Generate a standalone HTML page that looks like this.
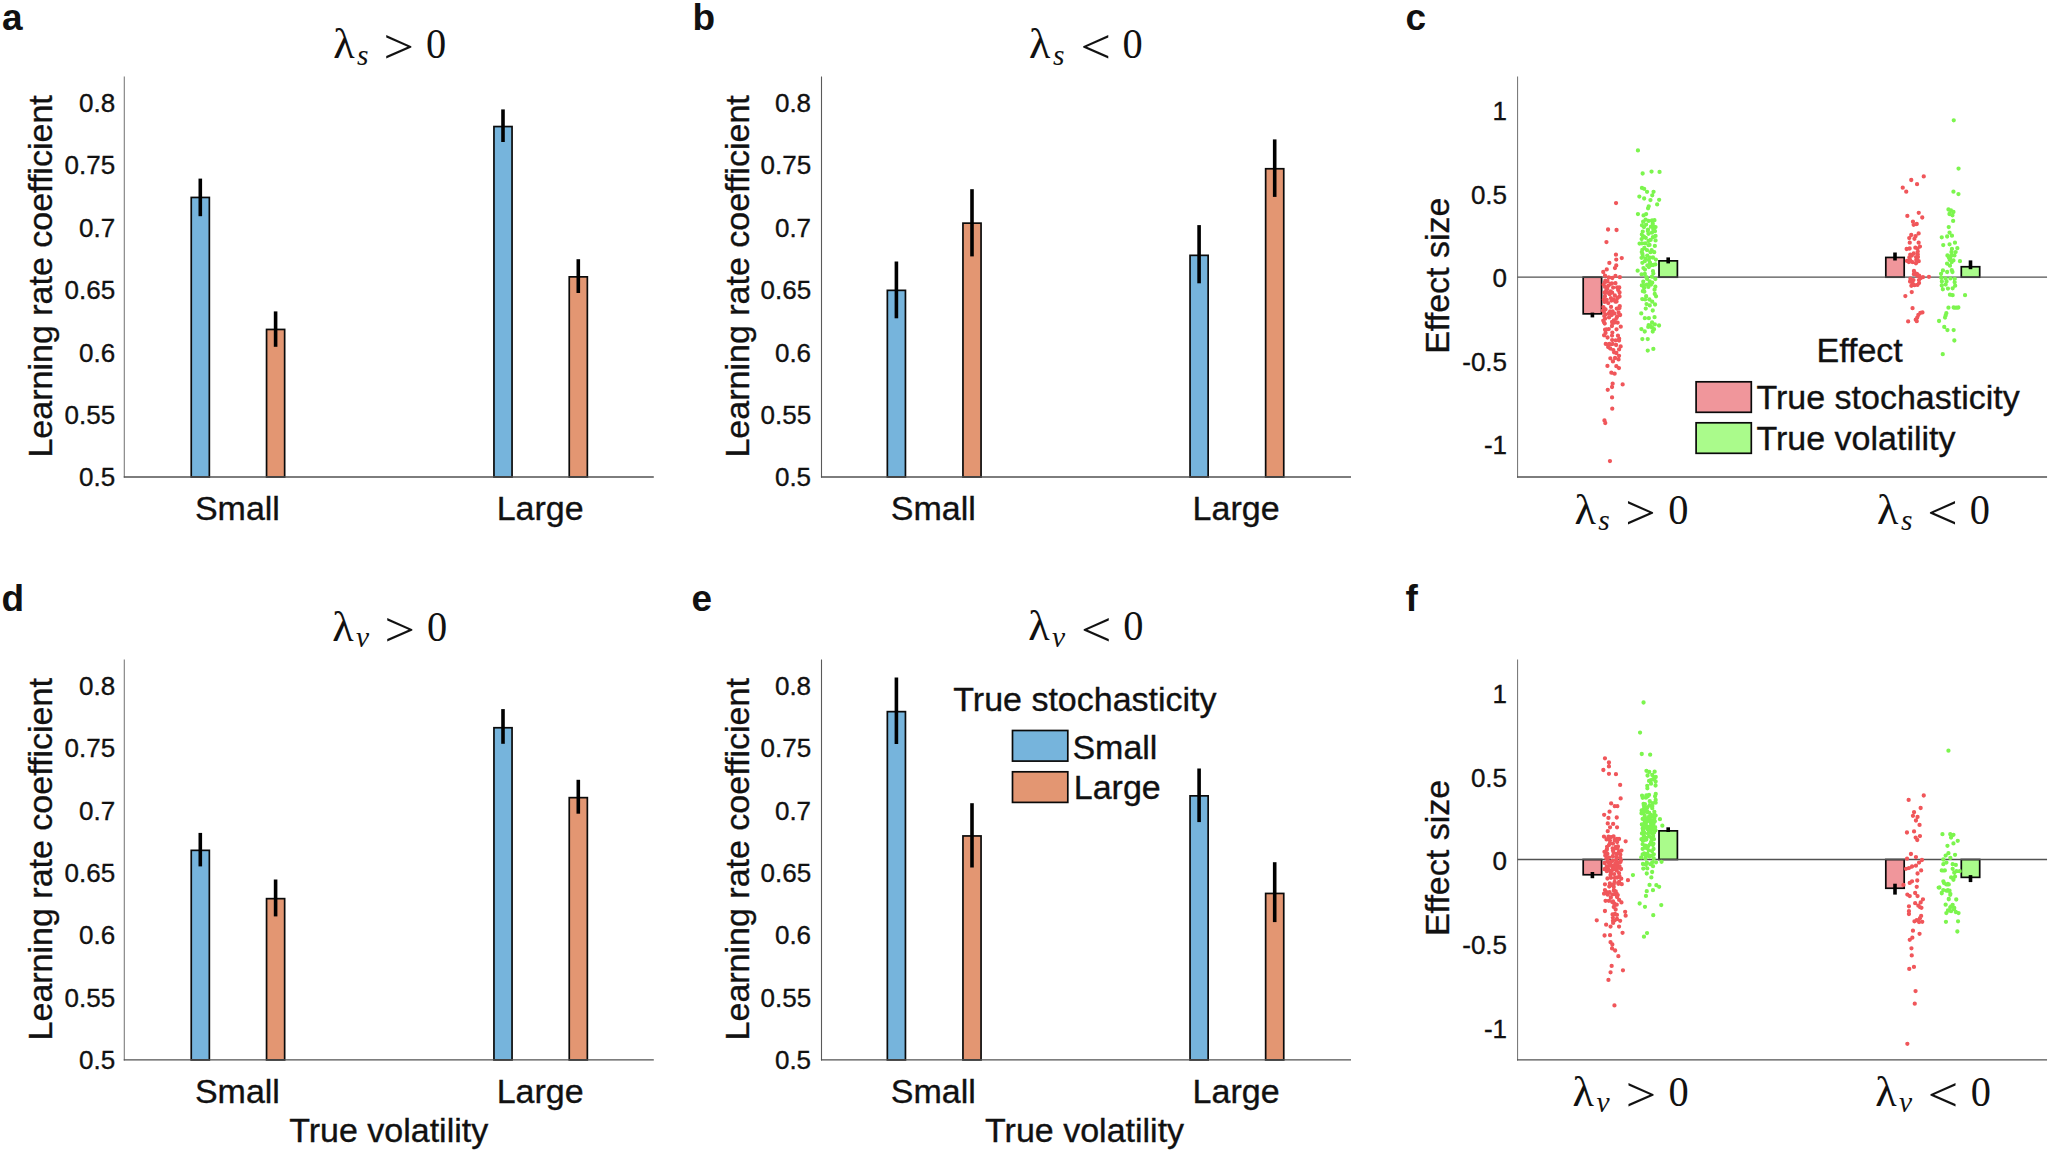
<!DOCTYPE html>
<html lang="en"><head><meta charset="utf-8"><title>Figure</title>
<style>
html,body{margin:0;padding:0;background:#fff;}
body{width:2050px;height:1154px;overflow:hidden;}
svg{display:block;}
text{fill:#111;}
.s{stroke:#111;stroke-width:0.35px;}
</style></head><body>
<svg width="2050" height="1154" viewBox="0 0 2050 1154">
<rect width="2050" height="1154" fill="#fff"/>
<rect x="191.25" y="197.45" width="18.10" height="279.55" fill="#76b4dc" stroke="#0a0a0a" stroke-width="1.7"/>
<rect x="266.55" y="329.45" width="18.10" height="147.55" fill="#e39672" stroke="#0a0a0a" stroke-width="1.7"/>
<rect x="493.95" y="126.55" width="18.10" height="350.45" fill="#76b4dc" stroke="#0a0a0a" stroke-width="1.7"/>
<rect x="569.25" y="276.85" width="18.10" height="200.15" fill="#e39672" stroke="#0a0a0a" stroke-width="1.7"/>
<line x1="124.30" y1="76.60" x2="124.30" y2="477.60" stroke="#7c7c7c" stroke-width="1.1"/>
<line x1="123.75" y1="477.00" x2="653.80" y2="477.00" stroke="#525252" stroke-width="1.3"/>
<line x1="200.30" y1="178.60" x2="200.30" y2="216.20" stroke="#000" stroke-width="3.6"/>
<line x1="275.60" y1="311.40" x2="275.60" y2="346.80" stroke="#000" stroke-width="3.6"/>
<line x1="503.00" y1="109.40" x2="503.00" y2="142.00" stroke="#000" stroke-width="3.6"/>
<line x1="578.30" y1="259.20" x2="578.30" y2="293.00" stroke="#000" stroke-width="3.6"/>
<text x="115.20" y="486.30" font-size="26.0" text-anchor="end" font-weight="normal" font-family="'Liberation Sans', Arimo, Helvetica, Arial, sans-serif"  class="s">0.5</text>
<text x="115.20" y="423.90" font-size="26.0" text-anchor="end" font-weight="normal" font-family="'Liberation Sans', Arimo, Helvetica, Arial, sans-serif"  class="s">0.55</text>
<text x="115.20" y="361.50" font-size="26.0" text-anchor="end" font-weight="normal" font-family="'Liberation Sans', Arimo, Helvetica, Arial, sans-serif"  class="s">0.6</text>
<text x="115.20" y="299.10" font-size="26.0" text-anchor="end" font-weight="normal" font-family="'Liberation Sans', Arimo, Helvetica, Arial, sans-serif"  class="s">0.65</text>
<text x="115.20" y="236.70" font-size="26.0" text-anchor="end" font-weight="normal" font-family="'Liberation Sans', Arimo, Helvetica, Arial, sans-serif"  class="s">0.7</text>
<text x="115.20" y="174.30" font-size="26.0" text-anchor="end" font-weight="normal" font-family="'Liberation Sans', Arimo, Helvetica, Arial, sans-serif"  class="s">0.75</text>
<text x="115.20" y="111.90" font-size="26.0" text-anchor="end" font-weight="normal" font-family="'Liberation Sans', Arimo, Helvetica, Arial, sans-serif"  class="s">0.8</text>
<text transform="translate(52.00,276.40) rotate(-90)" font-size="34.0" text-anchor="middle" font-family="'Liberation Sans', Arimo, Helvetica, Arial, sans-serif" class="s">Learning rate coefficient</text>
<text x="237.40" y="520.00" font-size="34.0" text-anchor="middle" font-weight="normal" font-family="'Liberation Sans', Arimo, Helvetica, Arial, sans-serif"  class="s">Small</text>
<text x="540.20" y="520.00" font-size="34.0" text-anchor="middle" font-weight="normal" font-family="'Liberation Sans', Arimo, Helvetica, Arial, sans-serif"  class="s">Large</text>
<text transform="translate(333.30,58.00) scale(1.05,1)" font-size="42" font-family="'Liberation Serif', 'Times New Roman', Times, serif">λ</text>
<text x="357.10" y="64.50" font-size="29.5" font-style="italic" font-family="'Liberation Serif', 'Times New Roman', Times, serif">s</text>
<text transform="translate(383.40,63.40) scale(1.1,1)" font-size="49" font-family="'Liberation Serif', 'Times New Roman', Times, serif">&gt;</text>
<text transform="translate(426.00,58.00) scale(0.94,1)" font-size="43" font-family="'Liberation Serif', 'Times New Roman', Times, serif">0</text>
<rect x="887.35" y="290.35" width="18.10" height="186.65" fill="#76b4dc" stroke="#0a0a0a" stroke-width="1.7"/>
<rect x="962.95" y="223.15" width="18.10" height="253.85" fill="#e39672" stroke="#0a0a0a" stroke-width="1.7"/>
<rect x="1190.05" y="255.35" width="18.10" height="221.65" fill="#76b4dc" stroke="#0a0a0a" stroke-width="1.7"/>
<rect x="1265.65" y="168.75" width="18.10" height="308.25" fill="#e39672" stroke="#0a0a0a" stroke-width="1.7"/>
<line x1="821.50" y1="76.60" x2="821.50" y2="477.60" stroke="#5a5a5a" stroke-width="1.1"/>
<line x1="820.95" y1="477.00" x2="1351.00" y2="477.00" stroke="#525252" stroke-width="1.3"/>
<line x1="896.40" y1="261.50" x2="896.40" y2="318.30" stroke="#000" stroke-width="3.6"/>
<line x1="972.00" y1="189.20" x2="972.00" y2="256.40" stroke="#000" stroke-width="3.6"/>
<line x1="1199.10" y1="225.10" x2="1199.10" y2="283.30" stroke="#000" stroke-width="3.6"/>
<line x1="1274.70" y1="139.40" x2="1274.70" y2="196.90" stroke="#000" stroke-width="3.6"/>
<text x="811.10" y="486.30" font-size="26.0" text-anchor="end" font-weight="normal" font-family="'Liberation Sans', Arimo, Helvetica, Arial, sans-serif"  class="s">0.5</text>
<text x="811.10" y="423.90" font-size="26.0" text-anchor="end" font-weight="normal" font-family="'Liberation Sans', Arimo, Helvetica, Arial, sans-serif"  class="s">0.55</text>
<text x="811.10" y="361.50" font-size="26.0" text-anchor="end" font-weight="normal" font-family="'Liberation Sans', Arimo, Helvetica, Arial, sans-serif"  class="s">0.6</text>
<text x="811.10" y="299.10" font-size="26.0" text-anchor="end" font-weight="normal" font-family="'Liberation Sans', Arimo, Helvetica, Arial, sans-serif"  class="s">0.65</text>
<text x="811.10" y="236.70" font-size="26.0" text-anchor="end" font-weight="normal" font-family="'Liberation Sans', Arimo, Helvetica, Arial, sans-serif"  class="s">0.7</text>
<text x="811.10" y="174.30" font-size="26.0" text-anchor="end" font-weight="normal" font-family="'Liberation Sans', Arimo, Helvetica, Arial, sans-serif"  class="s">0.75</text>
<text x="811.10" y="111.90" font-size="26.0" text-anchor="end" font-weight="normal" font-family="'Liberation Sans', Arimo, Helvetica, Arial, sans-serif"  class="s">0.8</text>
<text transform="translate(748.60,276.40) rotate(-90)" font-size="34.0" text-anchor="middle" font-family="'Liberation Sans', Arimo, Helvetica, Arial, sans-serif" class="s">Learning rate coefficient</text>
<text x="933.30" y="520.00" font-size="34.0" text-anchor="middle" font-weight="normal" font-family="'Liberation Sans', Arimo, Helvetica, Arial, sans-serif"  class="s">Small</text>
<text x="1236.10" y="520.00" font-size="34.0" text-anchor="middle" font-weight="normal" font-family="'Liberation Sans', Arimo, Helvetica, Arial, sans-serif"  class="s">Large</text>
<text transform="translate(1029.10,58.00) scale(1.05,1)" font-size="42" font-family="'Liberation Serif', 'Times New Roman', Times, serif">λ</text>
<text x="1052.90" y="64.50" font-size="29.5" font-style="italic" font-family="'Liberation Serif', 'Times New Roman', Times, serif">s</text>
<text transform="translate(1080.60,63.40) scale(1.1,1)" font-size="49" font-family="'Liberation Serif', 'Times New Roman', Times, serif">&lt;</text>
<text transform="translate(1122.40,58.00) scale(0.94,1)" font-size="43" font-family="'Liberation Serif', 'Times New Roman', Times, serif">0</text>
<rect x="191.25" y="850.35" width="18.10" height="209.55" fill="#76b4dc" stroke="#0a0a0a" stroke-width="1.7"/>
<rect x="266.55" y="898.65" width="18.10" height="161.25" fill="#e39672" stroke="#0a0a0a" stroke-width="1.7"/>
<rect x="493.95" y="727.75" width="18.10" height="332.15" fill="#76b4dc" stroke="#0a0a0a" stroke-width="1.7"/>
<rect x="569.25" y="797.65" width="18.10" height="262.25" fill="#e39672" stroke="#0a0a0a" stroke-width="1.7"/>
<line x1="124.30" y1="659.50" x2="124.30" y2="1060.50" stroke="#7c7c7c" stroke-width="1.1"/>
<line x1="123.75" y1="1059.90" x2="653.80" y2="1059.90" stroke="#525252" stroke-width="1.3"/>
<line x1="200.30" y1="832.90" x2="200.30" y2="866.40" stroke="#000" stroke-width="3.6"/>
<line x1="275.60" y1="879.50" x2="275.60" y2="916.40" stroke="#000" stroke-width="3.6"/>
<line x1="503.00" y1="709.10" x2="503.00" y2="743.80" stroke="#000" stroke-width="3.6"/>
<line x1="578.30" y1="779.80" x2="578.30" y2="813.70" stroke="#000" stroke-width="3.6"/>
<text x="115.20" y="1069.20" font-size="26.0" text-anchor="end" font-weight="normal" font-family="'Liberation Sans', Arimo, Helvetica, Arial, sans-serif"  class="s">0.5</text>
<text x="115.20" y="1006.80" font-size="26.0" text-anchor="end" font-weight="normal" font-family="'Liberation Sans', Arimo, Helvetica, Arial, sans-serif"  class="s">0.55</text>
<text x="115.20" y="944.40" font-size="26.0" text-anchor="end" font-weight="normal" font-family="'Liberation Sans', Arimo, Helvetica, Arial, sans-serif"  class="s">0.6</text>
<text x="115.20" y="882.00" font-size="26.0" text-anchor="end" font-weight="normal" font-family="'Liberation Sans', Arimo, Helvetica, Arial, sans-serif"  class="s">0.65</text>
<text x="115.20" y="819.60" font-size="26.0" text-anchor="end" font-weight="normal" font-family="'Liberation Sans', Arimo, Helvetica, Arial, sans-serif"  class="s">0.7</text>
<text x="115.20" y="757.20" font-size="26.0" text-anchor="end" font-weight="normal" font-family="'Liberation Sans', Arimo, Helvetica, Arial, sans-serif"  class="s">0.75</text>
<text x="115.20" y="694.80" font-size="26.0" text-anchor="end" font-weight="normal" font-family="'Liberation Sans', Arimo, Helvetica, Arial, sans-serif"  class="s">0.8</text>
<text transform="translate(52.00,859.30) rotate(-90)" font-size="34.0" text-anchor="middle" font-family="'Liberation Sans', Arimo, Helvetica, Arial, sans-serif" class="s">Learning rate coefficient</text>
<text x="237.40" y="1102.90" font-size="34.0" text-anchor="middle" font-weight="normal" font-family="'Liberation Sans', Arimo, Helvetica, Arial, sans-serif"  class="s">Small</text>
<text x="540.20" y="1102.90" font-size="34.0" text-anchor="middle" font-weight="normal" font-family="'Liberation Sans', Arimo, Helvetica, Arial, sans-serif"  class="s">Large</text>
<text x="388.70" y="1141.90" font-size="34.0" text-anchor="middle" font-weight="normal" font-family="'Liberation Sans', Arimo, Helvetica, Arial, sans-serif"  class="s">True volatility</text>
<text transform="translate(332.20,640.60) scale(1.05,1)" font-size="42" font-family="'Liberation Serif', 'Times New Roman', Times, serif">λ</text>
<text x="356.00" y="647.10" font-size="29.5" font-style="italic" font-family="'Liberation Serif', 'Times New Roman', Times, serif">v</text>
<text transform="translate(384.40,646.00) scale(1.1,1)" font-size="49" font-family="'Liberation Serif', 'Times New Roman', Times, serif">&gt;</text>
<text transform="translate(426.90,640.60) scale(0.94,1)" font-size="43" font-family="'Liberation Serif', 'Times New Roman', Times, serif">0</text>
<rect x="887.35" y="711.65" width="18.10" height="348.25" fill="#76b4dc" stroke="#0a0a0a" stroke-width="1.7"/>
<rect x="962.95" y="835.95" width="18.10" height="223.95" fill="#e39672" stroke="#0a0a0a" stroke-width="1.7"/>
<rect x="1190.05" y="795.85" width="18.10" height="264.05" fill="#76b4dc" stroke="#0a0a0a" stroke-width="1.7"/>
<rect x="1265.65" y="893.45" width="18.10" height="166.45" fill="#e39672" stroke="#0a0a0a" stroke-width="1.7"/>
<line x1="821.50" y1="659.50" x2="821.50" y2="1060.50" stroke="#5a5a5a" stroke-width="1.1"/>
<line x1="820.95" y1="1059.90" x2="1351.00" y2="1059.90" stroke="#525252" stroke-width="1.3"/>
<line x1="896.40" y1="677.50" x2="896.40" y2="744.00" stroke="#000" stroke-width="3.6"/>
<line x1="972.00" y1="803.20" x2="972.00" y2="867.50" stroke="#000" stroke-width="3.6"/>
<line x1="1199.10" y1="768.50" x2="1199.10" y2="822.10" stroke="#000" stroke-width="3.6"/>
<line x1="1274.70" y1="862.20" x2="1274.70" y2="922.10" stroke="#000" stroke-width="3.6"/>
<text x="811.10" y="1069.20" font-size="26.0" text-anchor="end" font-weight="normal" font-family="'Liberation Sans', Arimo, Helvetica, Arial, sans-serif"  class="s">0.5</text>
<text x="811.10" y="1006.80" font-size="26.0" text-anchor="end" font-weight="normal" font-family="'Liberation Sans', Arimo, Helvetica, Arial, sans-serif"  class="s">0.55</text>
<text x="811.10" y="944.40" font-size="26.0" text-anchor="end" font-weight="normal" font-family="'Liberation Sans', Arimo, Helvetica, Arial, sans-serif"  class="s">0.6</text>
<text x="811.10" y="882.00" font-size="26.0" text-anchor="end" font-weight="normal" font-family="'Liberation Sans', Arimo, Helvetica, Arial, sans-serif"  class="s">0.65</text>
<text x="811.10" y="819.60" font-size="26.0" text-anchor="end" font-weight="normal" font-family="'Liberation Sans', Arimo, Helvetica, Arial, sans-serif"  class="s">0.7</text>
<text x="811.10" y="757.20" font-size="26.0" text-anchor="end" font-weight="normal" font-family="'Liberation Sans', Arimo, Helvetica, Arial, sans-serif"  class="s">0.75</text>
<text x="811.10" y="694.80" font-size="26.0" text-anchor="end" font-weight="normal" font-family="'Liberation Sans', Arimo, Helvetica, Arial, sans-serif"  class="s">0.8</text>
<text transform="translate(748.60,859.30) rotate(-90)" font-size="34.0" text-anchor="middle" font-family="'Liberation Sans', Arimo, Helvetica, Arial, sans-serif" class="s">Learning rate coefficient</text>
<text x="933.30" y="1102.90" font-size="34.0" text-anchor="middle" font-weight="normal" font-family="'Liberation Sans', Arimo, Helvetica, Arial, sans-serif"  class="s">Small</text>
<text x="1236.10" y="1102.90" font-size="34.0" text-anchor="middle" font-weight="normal" font-family="'Liberation Sans', Arimo, Helvetica, Arial, sans-serif"  class="s">Large</text>
<text x="1084.60" y="1141.90" font-size="34.0" text-anchor="middle" font-weight="normal" font-family="'Liberation Sans', Arimo, Helvetica, Arial, sans-serif"  class="s">True volatility</text>
<text transform="translate(1028.20,640.40) scale(1.05,1)" font-size="42" font-family="'Liberation Serif', 'Times New Roman', Times, serif">λ</text>
<text x="1052.00" y="646.90" font-size="29.5" font-style="italic" font-family="'Liberation Serif', 'Times New Roman', Times, serif">v</text>
<text transform="translate(1081.00,645.80) scale(1.1,1)" font-size="49" font-family="'Liberation Serif', 'Times New Roman', Times, serif">&lt;</text>
<text transform="translate(1123.20,640.40) scale(0.94,1)" font-size="43" font-family="'Liberation Serif', 'Times New Roman', Times, serif">0</text>
<text x="2.00" y="30.00" font-size="37" text-anchor="start" font-weight="bold" font-family="'Liberation Sans', Arimo, Helvetica, Arial, sans-serif" >a</text>
<text x="692.50" y="30.00" font-size="37" text-anchor="start" font-weight="bold" font-family="'Liberation Sans', Arimo, Helvetica, Arial, sans-serif" >b</text>
<text x="1405.50" y="30.00" font-size="37" text-anchor="start" font-weight="bold" font-family="'Liberation Sans', Arimo, Helvetica, Arial, sans-serif" >c</text>
<text x="1.60" y="611.20" font-size="37" text-anchor="start" font-weight="bold" font-family="'Liberation Sans', Arimo, Helvetica, Arial, sans-serif" >d</text>
<text x="691.50" y="611.20" font-size="37" text-anchor="start" font-weight="bold" font-family="'Liberation Sans', Arimo, Helvetica, Arial, sans-serif" >e</text>
<text x="1405.60" y="611.20" font-size="37" text-anchor="start" font-weight="bold" font-family="'Liberation Sans', Arimo, Helvetica, Arial, sans-serif" >f</text>
<rect x="1012.5" y="730.5" width="55.3" height="30.6" fill="#76b4dc" stroke="#0a0a0a" stroke-width="1.7"/>
<rect x="1012.5" y="771.8" width="55.3" height="30.6" fill="#e39672" stroke="#0a0a0a" stroke-width="1.7"/>
<text x="953.30" y="711.40" font-size="34.0" text-anchor="start" font-weight="normal" font-family="'Liberation Sans', Arimo, Helvetica, Arial, sans-serif"  class="s">True stochasticity</text>
<text x="1072.40" y="758.50" font-size="34.0" text-anchor="start" font-weight="normal" font-family="'Liberation Sans', Arimo, Helvetica, Arial, sans-serif"  class="s">Small</text>
<text x="1073.80" y="798.80" font-size="34.0" text-anchor="start" font-weight="normal" font-family="'Liberation Sans', Arimo, Helvetica, Arial, sans-serif"  class="s">Large</text>
<rect x="1583.20" y="277.20" width="18.40" height="36.65" fill="#f0969b" stroke="#0a0a0a" stroke-width="1.7"/>
<rect x="1659.00" y="260.85" width="18.40" height="16.35" fill="#aafb8b" stroke="#0a0a0a" stroke-width="1.7"/>
<rect x="1885.80" y="257.45" width="18.40" height="19.75" fill="#f0969b" stroke="#0a0a0a" stroke-width="1.7"/>
<rect x="1961.30" y="266.75" width="18.40" height="10.45" fill="#aafb8b" stroke="#0a0a0a" stroke-width="1.7"/>
<line x1="1517.55" y1="76.60" x2="1517.55" y2="477.60" stroke="#7c7c7c" stroke-width="1.1"/>
<line x1="1517.00" y1="477.00" x2="2047.05" y2="477.00" stroke="#525252" stroke-width="1.3"/>
<line x1="1517.45" y1="277.20" x2="2047.05" y2="277.20" stroke="#525252" stroke-width="1.3"/>
<path d="M1607.8 461.1a2.15 2.15 0 1 0 4.3 0a2.15 2.15 0 1 0 -4.3 0zM1602.3 420.4a2.15 2.15 0 1 0 4.3 0a2.15 2.15 0 1 0 -4.3 0zM1603.1 423.0a2.15 2.15 0 1 0 4.3 0a2.15 2.15 0 1 0 -4.3 0zM1610.1 408.7a2.15 2.15 0 1 0 4.3 0a2.15 2.15 0 1 0 -4.3 0zM1609.9 397.4a2.15 2.15 0 1 0 4.3 0a2.15 2.15 0 1 0 -4.3 0zM1605.6 389.8a2.15 2.15 0 1 0 4.3 0a2.15 2.15 0 1 0 -4.3 0zM1609.9 387.0a2.15 2.15 0 1 0 4.3 0a2.15 2.15 0 1 0 -4.3 0zM1610.5 383.7a2.15 2.15 0 1 0 4.3 0a2.15 2.15 0 1 0 -4.3 0zM1620.5 384.4a2.15 2.15 0 1 0 4.3 0a2.15 2.15 0 1 0 -4.3 0zM1609.2 372.7a2.15 2.15 0 1 0 4.3 0a2.15 2.15 0 1 0 -4.3 0zM1612.5 373.7a2.15 2.15 0 1 0 4.3 0a2.15 2.15 0 1 0 -4.3 0zM1605.3 365.9a2.15 2.15 0 1 0 4.3 0a2.15 2.15 0 1 0 -4.3 0zM1614.2 366.2a2.15 2.15 0 1 0 4.3 0a2.15 2.15 0 1 0 -4.3 0zM1616.8 368.1a2.15 2.15 0 1 0 4.3 0a2.15 2.15 0 1 0 -4.3 0zM1610.8 361.4a2.15 2.15 0 1 0 4.3 0a2.15 2.15 0 1 0 -4.3 0zM1616.4 359.4a2.15 2.15 0 1 0 4.3 0a2.15 2.15 0 1 0 -4.3 0zM1613.9 203.1a2.15 2.15 0 1 0 4.3 0a2.15 2.15 0 1 0 -4.3 0zM1605.9 229.5a2.15 2.15 0 1 0 4.3 0a2.15 2.15 0 1 0 -4.3 0zM1614.4 230.0a2.15 2.15 0 1 0 4.3 0a2.15 2.15 0 1 0 -4.3 0zM1604.3 242.1a2.15 2.15 0 1 0 4.3 0a2.15 2.15 0 1 0 -4.3 0zM1613.8 254.7a2.15 2.15 0 1 0 4.3 0a2.15 2.15 0 1 0 -4.3 0zM1619.6 258.1a2.15 2.15 0 1 0 4.3 0a2.15 2.15 0 1 0 -4.3 0zM1614.1 259.6a2.15 2.15 0 1 0 4.3 0a2.15 2.15 0 1 0 -4.3 0zM1607.2 262.9a2.15 2.15 0 1 0 4.3 0a2.15 2.15 0 1 0 -4.3 0zM1614.1 265.5a2.15 2.15 0 1 0 4.3 0a2.15 2.15 0 1 0 -4.3 0zM1612.8 268.1a2.15 2.15 0 1 0 4.3 0a2.15 2.15 0 1 0 -4.3 0zM1604.6 269.4a2.15 2.15 0 1 0 4.3 0a2.15 2.15 0 1 0 -4.3 0zM1601.1 272.0a2.15 2.15 0 1 0 4.3 0a2.15 2.15 0 1 0 -4.3 0zM1610.0 292.6a2.15 2.15 0 1 0 4.3 0a2.15 2.15 0 1 0 -4.3 0zM1601.7 299.4a2.15 2.15 0 1 0 4.3 0a2.15 2.15 0 1 0 -4.3 0zM1611.6 320.5a2.15 2.15 0 1 0 4.3 0a2.15 2.15 0 1 0 -4.3 0zM1617.7 277.2a2.15 2.15 0 1 0 4.3 0a2.15 2.15 0 1 0 -4.3 0zM1603.2 280.7a2.15 2.15 0 1 0 4.3 0a2.15 2.15 0 1 0 -4.3 0zM1610.2 278.0a2.15 2.15 0 1 0 4.3 0a2.15 2.15 0 1 0 -4.3 0zM1606.1 303.1a2.15 2.15 0 1 0 4.3 0a2.15 2.15 0 1 0 -4.3 0zM1614.6 308.6a2.15 2.15 0 1 0 4.3 0a2.15 2.15 0 1 0 -4.3 0zM1608.0 311.3a2.15 2.15 0 1 0 4.3 0a2.15 2.15 0 1 0 -4.3 0zM1601.3 307.1a2.15 2.15 0 1 0 4.3 0a2.15 2.15 0 1 0 -4.3 0zM1616.0 290.1a2.15 2.15 0 1 0 4.3 0a2.15 2.15 0 1 0 -4.3 0zM1608.9 306.9a2.15 2.15 0 1 0 4.3 0a2.15 2.15 0 1 0 -4.3 0zM1612.0 322.7a2.15 2.15 0 1 0 4.3 0a2.15 2.15 0 1 0 -4.3 0zM1601.7 311.9a2.15 2.15 0 1 0 4.3 0a2.15 2.15 0 1 0 -4.3 0zM1602.9 286.9a2.15 2.15 0 1 0 4.3 0a2.15 2.15 0 1 0 -4.3 0zM1615.0 316.5a2.15 2.15 0 1 0 4.3 0a2.15 2.15 0 1 0 -4.3 0zM1606.9 317.4a2.15 2.15 0 1 0 4.3 0a2.15 2.15 0 1 0 -4.3 0zM1611.0 287.6a2.15 2.15 0 1 0 4.3 0a2.15 2.15 0 1 0 -4.3 0zM1617.3 308.1a2.15 2.15 0 1 0 4.3 0a2.15 2.15 0 1 0 -4.3 0zM1616.4 312.4a2.15 2.15 0 1 0 4.3 0a2.15 2.15 0 1 0 -4.3 0zM1607.5 294.2a2.15 2.15 0 1 0 4.3 0a2.15 2.15 0 1 0 -4.3 0zM1606.6 277.5a2.15 2.15 0 1 0 4.3 0a2.15 2.15 0 1 0 -4.3 0zM1602.4 292.5a2.15 2.15 0 1 0 4.3 0a2.15 2.15 0 1 0 -4.3 0zM1615.5 322.7a2.15 2.15 0 1 0 4.3 0a2.15 2.15 0 1 0 -4.3 0zM1608.8 298.2a2.15 2.15 0 1 0 4.3 0a2.15 2.15 0 1 0 -4.3 0zM1601.1 320.6a2.15 2.15 0 1 0 4.3 0a2.15 2.15 0 1 0 -4.3 0zM1609.9 322.0a2.15 2.15 0 1 0 4.3 0a2.15 2.15 0 1 0 -4.3 0zM1605.2 292.6a2.15 2.15 0 1 0 4.3 0a2.15 2.15 0 1 0 -4.3 0zM1606.4 285.7a2.15 2.15 0 1 0 4.3 0a2.15 2.15 0 1 0 -4.3 0zM1604.6 299.8a2.15 2.15 0 1 0 4.3 0a2.15 2.15 0 1 0 -4.3 0zM1617.4 296.5a2.15 2.15 0 1 0 4.3 0a2.15 2.15 0 1 0 -4.3 0zM1617.4 292.5a2.15 2.15 0 1 0 4.3 0a2.15 2.15 0 1 0 -4.3 0zM1615.4 298.0a2.15 2.15 0 1 0 4.3 0a2.15 2.15 0 1 0 -4.3 0zM1612.1 313.4a2.15 2.15 0 1 0 4.3 0a2.15 2.15 0 1 0 -4.3 0zM1606.5 313.4a2.15 2.15 0 1 0 4.3 0a2.15 2.15 0 1 0 -4.3 0zM1613.3 283.2a2.15 2.15 0 1 0 4.3 0a2.15 2.15 0 1 0 -4.3 0zM1603.2 314.7a2.15 2.15 0 1 0 4.3 0a2.15 2.15 0 1 0 -4.3 0zM1602.9 275.7a2.15 2.15 0 1 0 4.3 0a2.15 2.15 0 1 0 -4.3 0zM1617.6 306.2a2.15 2.15 0 1 0 4.3 0a2.15 2.15 0 1 0 -4.3 0zM1605.1 289.1a2.15 2.15 0 1 0 4.3 0a2.15 2.15 0 1 0 -4.3 0zM1602.9 318.7a2.15 2.15 0 1 0 4.3 0a2.15 2.15 0 1 0 -4.3 0zM1609.4 300.5a2.15 2.15 0 1 0 4.3 0a2.15 2.15 0 1 0 -4.3 0zM1608.4 283.8a2.15 2.15 0 1 0 4.3 0a2.15 2.15 0 1 0 -4.3 0zM1613.3 301.7a2.15 2.15 0 1 0 4.3 0a2.15 2.15 0 1 0 -4.3 0zM1602.5 301.9a2.15 2.15 0 1 0 4.3 0a2.15 2.15 0 1 0 -4.3 0zM1610.5 311.5a2.15 2.15 0 1 0 4.3 0a2.15 2.15 0 1 0 -4.3 0zM1611.4 299.3a2.15 2.15 0 1 0 4.3 0a2.15 2.15 0 1 0 -4.3 0zM1617.1 287.5a2.15 2.15 0 1 0 4.3 0a2.15 2.15 0 1 0 -4.3 0zM1602.8 296.2a2.15 2.15 0 1 0 4.3 0a2.15 2.15 0 1 0 -4.3 0zM1614.4 318.1a2.15 2.15 0 1 0 4.3 0a2.15 2.15 0 1 0 -4.3 0zM1603.4 309.4a2.15 2.15 0 1 0 4.3 0a2.15 2.15 0 1 0 -4.3 0zM1618.0 315.0a2.15 2.15 0 1 0 4.3 0a2.15 2.15 0 1 0 -4.3 0zM1604.1 290.3a2.15 2.15 0 1 0 4.3 0a2.15 2.15 0 1 0 -4.3 0zM1613.3 275.9a2.15 2.15 0 1 0 4.3 0a2.15 2.15 0 1 0 -4.3 0zM1601.8 322.3a2.15 2.15 0 1 0 4.3 0a2.15 2.15 0 1 0 -4.3 0zM1605.4 281.2a2.15 2.15 0 1 0 4.3 0a2.15 2.15 0 1 0 -4.3 0zM1615.0 287.4a2.15 2.15 0 1 0 4.3 0a2.15 2.15 0 1 0 -4.3 0zM1612.7 295.4a2.15 2.15 0 1 0 4.3 0a2.15 2.15 0 1 0 -4.3 0zM1602.1 316.1a2.15 2.15 0 1 0 4.3 0a2.15 2.15 0 1 0 -4.3 0zM1608.6 291.3a2.15 2.15 0 1 0 4.3 0a2.15 2.15 0 1 0 -4.3 0zM1602.6 282.7a2.15 2.15 0 1 0 4.3 0a2.15 2.15 0 1 0 -4.3 0zM1601.5 284.7a2.15 2.15 0 1 0 4.3 0a2.15 2.15 0 1 0 -4.3 0zM1609.6 283.5a2.15 2.15 0 1 0 4.3 0a2.15 2.15 0 1 0 -4.3 0zM1614.4 301.5a2.15 2.15 0 1 0 4.3 0a2.15 2.15 0 1 0 -4.3 0zM1609.5 315.1a2.15 2.15 0 1 0 4.3 0a2.15 2.15 0 1 0 -4.3 0zM1613.4 322.2a2.15 2.15 0 1 0 4.3 0a2.15 2.15 0 1 0 -4.3 0zM1600.8 310.6a2.15 2.15 0 1 0 4.3 0a2.15 2.15 0 1 0 -4.3 0zM1617.2 307.2a2.15 2.15 0 1 0 4.3 0a2.15 2.15 0 1 0 -4.3 0zM1606.6 329.1a2.15 2.15 0 1 0 4.3 0a2.15 2.15 0 1 0 -4.3 0zM1606.0 347.1a2.15 2.15 0 1 0 4.3 0a2.15 2.15 0 1 0 -4.3 0zM1609.9 335.6a2.15 2.15 0 1 0 4.3 0a2.15 2.15 0 1 0 -4.3 0zM1603.4 333.0a2.15 2.15 0 1 0 4.3 0a2.15 2.15 0 1 0 -4.3 0zM1602.6 323.6a2.15 2.15 0 1 0 4.3 0a2.15 2.15 0 1 0 -4.3 0zM1614.0 345.0a2.15 2.15 0 1 0 4.3 0a2.15 2.15 0 1 0 -4.3 0zM1618.6 326.7a2.15 2.15 0 1 0 4.3 0a2.15 2.15 0 1 0 -4.3 0zM1617.0 338.7a2.15 2.15 0 1 0 4.3 0a2.15 2.15 0 1 0 -4.3 0zM1610.4 343.9a2.15 2.15 0 1 0 4.3 0a2.15 2.15 0 1 0 -4.3 0zM1613.5 340.3a2.15 2.15 0 1 0 4.3 0a2.15 2.15 0 1 0 -4.3 0zM1603.6 343.9a2.15 2.15 0 1 0 4.3 0a2.15 2.15 0 1 0 -4.3 0zM1610.2 323.1a2.15 2.15 0 1 0 4.3 0a2.15 2.15 0 1 0 -4.3 0zM1614.4 329.3a2.15 2.15 0 1 0 4.3 0a2.15 2.15 0 1 0 -4.3 0zM1610.2 332.6a2.15 2.15 0 1 0 4.3 0a2.15 2.15 0 1 0 -4.3 0zM1610.0 340.1a2.15 2.15 0 1 0 4.3 0a2.15 2.15 0 1 0 -4.3 0zM1604.4 329.3a2.15 2.15 0 1 0 4.3 0a2.15 2.15 0 1 0 -4.3 0zM1602.9 329.7a2.15 2.15 0 1 0 4.3 0a2.15 2.15 0 1 0 -4.3 0zM1609.8 326.0a2.15 2.15 0 1 0 4.3 0a2.15 2.15 0 1 0 -4.3 0zM1618.5 346.4a2.15 2.15 0 1 0 4.3 0a2.15 2.15 0 1 0 -4.3 0zM1605.4 337.5a2.15 2.15 0 1 0 4.3 0a2.15 2.15 0 1 0 -4.3 0zM1615.8 335.7a2.15 2.15 0 1 0 4.3 0a2.15 2.15 0 1 0 -4.3 0zM1616.9 340.6a2.15 2.15 0 1 0 4.3 0a2.15 2.15 0 1 0 -4.3 0zM1601.9 335.3a2.15 2.15 0 1 0 4.3 0a2.15 2.15 0 1 0 -4.3 0zM1607.2 344.0a2.15 2.15 0 1 0 4.3 0a2.15 2.15 0 1 0 -4.3 0zM1616.9 355.8a2.15 2.15 0 1 0 4.3 0a2.15 2.15 0 1 0 -4.3 0zM1608.1 348.5a2.15 2.15 0 1 0 4.3 0a2.15 2.15 0 1 0 -4.3 0zM1608.2 358.3a2.15 2.15 0 1 0 4.3 0a2.15 2.15 0 1 0 -4.3 0zM1611.2 350.1a2.15 2.15 0 1 0 4.3 0a2.15 2.15 0 1 0 -4.3 0zM1612.9 358.0a2.15 2.15 0 1 0 4.3 0a2.15 2.15 0 1 0 -4.3 0zM1614.2 353.0a2.15 2.15 0 1 0 4.3 0a2.15 2.15 0 1 0 -4.3 0zM1616.9 349.4a2.15 2.15 0 1 0 4.3 0a2.15 2.15 0 1 0 -4.3 0zM1611.9 352.3a2.15 2.15 0 1 0 4.3 0a2.15 2.15 0 1 0 -4.3 0z" fill="#f0565a"/>
<path d="M1635.8 150.4a2.15 2.15 0 1 0 4.3 0a2.15 2.15 0 1 0 -4.3 0zM1640.5 173.5a2.15 2.15 0 1 0 4.3 0a2.15 2.15 0 1 0 -4.3 0zM1649.4 171.6a2.15 2.15 0 1 0 4.3 0a2.15 2.15 0 1 0 -4.3 0zM1657.4 171.9a2.15 2.15 0 1 0 4.3 0a2.15 2.15 0 1 0 -4.3 0zM1639.8 187.9a2.15 2.15 0 1 0 4.3 0a2.15 2.15 0 1 0 -4.3 0zM1642.0 188.8a2.15 2.15 0 1 0 4.3 0a2.15 2.15 0 1 0 -4.3 0zM1644.9 191.8a2.15 2.15 0 1 0 4.3 0a2.15 2.15 0 1 0 -4.3 0zM1651.4 191.8a2.15 2.15 0 1 0 4.3 0a2.15 2.15 0 1 0 -4.3 0zM1650.1 195.3a2.15 2.15 0 1 0 4.3 0a2.15 2.15 0 1 0 -4.3 0zM1637.2 196.6a2.15 2.15 0 1 0 4.3 0a2.15 2.15 0 1 0 -4.3 0zM1642.0 198.5a2.15 2.15 0 1 0 4.3 0a2.15 2.15 0 1 0 -4.3 0zM1648.3 200.1a2.15 2.15 0 1 0 4.3 0a2.15 2.15 0 1 0 -4.3 0zM1657.0 199.8a2.15 2.15 0 1 0 4.3 0a2.15 2.15 0 1 0 -4.3 0zM1655.0 204.4a2.15 2.15 0 1 0 4.3 0a2.15 2.15 0 1 0 -4.3 0zM1646.6 206.3a2.15 2.15 0 1 0 4.3 0a2.15 2.15 0 1 0 -4.3 0zM1645.9 208.3a2.15 2.15 0 1 0 4.3 0a2.15 2.15 0 1 0 -4.3 0zM1635.8 214.1a2.15 2.15 0 1 0 4.3 0a2.15 2.15 0 1 0 -4.3 0zM1641.4 215.4a2.15 2.15 0 1 0 4.3 0a2.15 2.15 0 1 0 -4.3 0zM1644.0 214.1a2.15 2.15 0 1 0 4.3 0a2.15 2.15 0 1 0 -4.3 0zM1635.5 270.7a2.15 2.15 0 1 0 4.3 0a2.15 2.15 0 1 0 -4.3 0zM1645.6 350.6a2.15 2.15 0 1 0 4.3 0a2.15 2.15 0 1 0 -4.3 0zM1651.2 348.9a2.15 2.15 0 1 0 4.3 0a2.15 2.15 0 1 0 -4.3 0zM1640.2 339.1a2.15 2.15 0 1 0 4.3 0a2.15 2.15 0 1 0 -4.3 0zM1645.6 339.1a2.15 2.15 0 1 0 4.3 0a2.15 2.15 0 1 0 -4.3 0zM1656.9 325.5a2.15 2.15 0 1 0 4.3 0a2.15 2.15 0 1 0 -4.3 0zM1646.3 233.8a2.15 2.15 0 1 0 4.3 0a2.15 2.15 0 1 0 -4.3 0zM1652.4 289.7a2.15 2.15 0 1 0 4.3 0a2.15 2.15 0 1 0 -4.3 0zM1644.0 224.6a2.15 2.15 0 1 0 4.3 0a2.15 2.15 0 1 0 -4.3 0zM1645.1 255.7a2.15 2.15 0 1 0 4.3 0a2.15 2.15 0 1 0 -4.3 0zM1653.4 227.1a2.15 2.15 0 1 0 4.3 0a2.15 2.15 0 1 0 -4.3 0zM1644.8 250.1a2.15 2.15 0 1 0 4.3 0a2.15 2.15 0 1 0 -4.3 0zM1653.2 279.1a2.15 2.15 0 1 0 4.3 0a2.15 2.15 0 1 0 -4.3 0zM1644.7 284.7a2.15 2.15 0 1 0 4.3 0a2.15 2.15 0 1 0 -4.3 0zM1653.4 235.9a2.15 2.15 0 1 0 4.3 0a2.15 2.15 0 1 0 -4.3 0zM1646.7 267.1a2.15 2.15 0 1 0 4.3 0a2.15 2.15 0 1 0 -4.3 0zM1639.4 274.3a2.15 2.15 0 1 0 4.3 0a2.15 2.15 0 1 0 -4.3 0zM1648.5 239.9a2.15 2.15 0 1 0 4.3 0a2.15 2.15 0 1 0 -4.3 0zM1646.7 260.0a2.15 2.15 0 1 0 4.3 0a2.15 2.15 0 1 0 -4.3 0zM1653.2 264.4a2.15 2.15 0 1 0 4.3 0a2.15 2.15 0 1 0 -4.3 0zM1652.1 252.2a2.15 2.15 0 1 0 4.3 0a2.15 2.15 0 1 0 -4.3 0zM1643.5 219.6a2.15 2.15 0 1 0 4.3 0a2.15 2.15 0 1 0 -4.3 0zM1648.9 284.6a2.15 2.15 0 1 0 4.3 0a2.15 2.15 0 1 0 -4.3 0zM1650.8 271.2a2.15 2.15 0 1 0 4.3 0a2.15 2.15 0 1 0 -4.3 0zM1653.4 240.4a2.15 2.15 0 1 0 4.3 0a2.15 2.15 0 1 0 -4.3 0zM1642.2 248.0a2.15 2.15 0 1 0 4.3 0a2.15 2.15 0 1 0 -4.3 0zM1642.0 288.1a2.15 2.15 0 1 0 4.3 0a2.15 2.15 0 1 0 -4.3 0zM1641.0 221.7a2.15 2.15 0 1 0 4.3 0a2.15 2.15 0 1 0 -4.3 0zM1641.6 285.4a2.15 2.15 0 1 0 4.3 0a2.15 2.15 0 1 0 -4.3 0zM1650.0 220.3a2.15 2.15 0 1 0 4.3 0a2.15 2.15 0 1 0 -4.3 0zM1643.0 243.3a2.15 2.15 0 1 0 4.3 0a2.15 2.15 0 1 0 -4.3 0zM1644.2 277.2a2.15 2.15 0 1 0 4.3 0a2.15 2.15 0 1 0 -4.3 0zM1639.6 252.1a2.15 2.15 0 1 0 4.3 0a2.15 2.15 0 1 0 -4.3 0zM1652.3 220.2a2.15 2.15 0 1 0 4.3 0a2.15 2.15 0 1 0 -4.3 0zM1650.1 282.7a2.15 2.15 0 1 0 4.3 0a2.15 2.15 0 1 0 -4.3 0zM1642.8 269.6a2.15 2.15 0 1 0 4.3 0a2.15 2.15 0 1 0 -4.3 0zM1643.6 237.8a2.15 2.15 0 1 0 4.3 0a2.15 2.15 0 1 0 -4.3 0zM1653.2 286.7a2.15 2.15 0 1 0 4.3 0a2.15 2.15 0 1 0 -4.3 0zM1652.8 231.2a2.15 2.15 0 1 0 4.3 0a2.15 2.15 0 1 0 -4.3 0zM1651.2 273.6a2.15 2.15 0 1 0 4.3 0a2.15 2.15 0 1 0 -4.3 0zM1650.6 223.7a2.15 2.15 0 1 0 4.3 0a2.15 2.15 0 1 0 -4.3 0zM1639.4 257.8a2.15 2.15 0 1 0 4.3 0a2.15 2.15 0 1 0 -4.3 0zM1640.3 253.9a2.15 2.15 0 1 0 4.3 0a2.15 2.15 0 1 0 -4.3 0zM1649.5 250.2a2.15 2.15 0 1 0 4.3 0a2.15 2.15 0 1 0 -4.3 0zM1648.8 226.7a2.15 2.15 0 1 0 4.3 0a2.15 2.15 0 1 0 -4.3 0zM1647.4 244.9a2.15 2.15 0 1 0 4.3 0a2.15 2.15 0 1 0 -4.3 0zM1641.1 281.7a2.15 2.15 0 1 0 4.3 0a2.15 2.15 0 1 0 -4.3 0zM1651.0 265.0a2.15 2.15 0 1 0 4.3 0a2.15 2.15 0 1 0 -4.3 0zM1639.5 239.1a2.15 2.15 0 1 0 4.3 0a2.15 2.15 0 1 0 -4.3 0zM1640.6 231.6a2.15 2.15 0 1 0 4.3 0a2.15 2.15 0 1 0 -4.3 0zM1642.7 274.0a2.15 2.15 0 1 0 4.3 0a2.15 2.15 0 1 0 -4.3 0zM1647.8 262.6a2.15 2.15 0 1 0 4.3 0a2.15 2.15 0 1 0 -4.3 0zM1642.7 261.2a2.15 2.15 0 1 0 4.3 0a2.15 2.15 0 1 0 -4.3 0zM1650.8 257.5a2.15 2.15 0 1 0 4.3 0a2.15 2.15 0 1 0 -4.3 0zM1639.8 225.3a2.15 2.15 0 1 0 4.3 0a2.15 2.15 0 1 0 -4.3 0zM1641.3 268.1a2.15 2.15 0 1 0 4.3 0a2.15 2.15 0 1 0 -4.3 0zM1643.5 258.8a2.15 2.15 0 1 0 4.3 0a2.15 2.15 0 1 0 -4.3 0zM1649.8 232.7a2.15 2.15 0 1 0 4.3 0a2.15 2.15 0 1 0 -4.3 0zM1645.8 229.7a2.15 2.15 0 1 0 4.3 0a2.15 2.15 0 1 0 -4.3 0zM1640.2 262.8a2.15 2.15 0 1 0 4.3 0a2.15 2.15 0 1 0 -4.3 0zM1646.7 284.6a2.15 2.15 0 1 0 4.3 0a2.15 2.15 0 1 0 -4.3 0zM1641.8 227.1a2.15 2.15 0 1 0 4.3 0a2.15 2.15 0 1 0 -4.3 0zM1652.7 245.9a2.15 2.15 0 1 0 4.3 0a2.15 2.15 0 1 0 -4.3 0zM1651.2 229.5a2.15 2.15 0 1 0 4.3 0a2.15 2.15 0 1 0 -4.3 0zM1644.9 278.9a2.15 2.15 0 1 0 4.3 0a2.15 2.15 0 1 0 -4.3 0zM1640.7 235.8a2.15 2.15 0 1 0 4.3 0a2.15 2.15 0 1 0 -4.3 0zM1651.4 226.5a2.15 2.15 0 1 0 4.3 0a2.15 2.15 0 1 0 -4.3 0zM1647.8 257.6a2.15 2.15 0 1 0 4.3 0a2.15 2.15 0 1 0 -4.3 0zM1645.2 265.4a2.15 2.15 0 1 0 4.3 0a2.15 2.15 0 1 0 -4.3 0zM1645.7 230.9a2.15 2.15 0 1 0 4.3 0a2.15 2.15 0 1 0 -4.3 0zM1640.2 249.8a2.15 2.15 0 1 0 4.3 0a2.15 2.15 0 1 0 -4.3 0zM1646.5 220.9a2.15 2.15 0 1 0 4.3 0a2.15 2.15 0 1 0 -4.3 0zM1646.4 245.2a2.15 2.15 0 1 0 4.3 0a2.15 2.15 0 1 0 -4.3 0zM1649.8 276.7a2.15 2.15 0 1 0 4.3 0a2.15 2.15 0 1 0 -4.3 0zM1646.2 286.9a2.15 2.15 0 1 0 4.3 0a2.15 2.15 0 1 0 -4.3 0zM1639.8 243.3a2.15 2.15 0 1 0 4.3 0a2.15 2.15 0 1 0 -4.3 0zM1642.0 236.9a2.15 2.15 0 1 0 4.3 0a2.15 2.15 0 1 0 -4.3 0zM1646.4 241.0a2.15 2.15 0 1 0 4.3 0a2.15 2.15 0 1 0 -4.3 0zM1640.6 256.2a2.15 2.15 0 1 0 4.3 0a2.15 2.15 0 1 0 -4.3 0zM1647.6 281.5a2.15 2.15 0 1 0 4.3 0a2.15 2.15 0 1 0 -4.3 0zM1650.8 237.1a2.15 2.15 0 1 0 4.3 0a2.15 2.15 0 1 0 -4.3 0zM1653.7 259.6a2.15 2.15 0 1 0 4.3 0a2.15 2.15 0 1 0 -4.3 0zM1650.4 221.5a2.15 2.15 0 1 0 4.3 0a2.15 2.15 0 1 0 -4.3 0zM1647.6 265.8a2.15 2.15 0 1 0 4.3 0a2.15 2.15 0 1 0 -4.3 0zM1639.7 234.4a2.15 2.15 0 1 0 4.3 0a2.15 2.15 0 1 0 -4.3 0zM1637.4 243.6a2.15 2.15 0 1 0 4.3 0a2.15 2.15 0 1 0 -4.3 0zM1648.3 252.2a2.15 2.15 0 1 0 4.3 0a2.15 2.15 0 1 0 -4.3 0zM1639.7 285.4a2.15 2.15 0 1 0 4.3 0a2.15 2.15 0 1 0 -4.3 0zM1652.7 324.4a2.15 2.15 0 1 0 4.3 0a2.15 2.15 0 1 0 -4.3 0zM1647.6 305.4a2.15 2.15 0 1 0 4.3 0a2.15 2.15 0 1 0 -4.3 0zM1639.1 313.4a2.15 2.15 0 1 0 4.3 0a2.15 2.15 0 1 0 -4.3 0zM1653.9 296.3a2.15 2.15 0 1 0 4.3 0a2.15 2.15 0 1 0 -4.3 0zM1646.7 318.2a2.15 2.15 0 1 0 4.3 0a2.15 2.15 0 1 0 -4.3 0zM1639.2 329.1a2.15 2.15 0 1 0 4.3 0a2.15 2.15 0 1 0 -4.3 0zM1650.6 310.5a2.15 2.15 0 1 0 4.3 0a2.15 2.15 0 1 0 -4.3 0zM1642.2 291.7a2.15 2.15 0 1 0 4.3 0a2.15 2.15 0 1 0 -4.3 0zM1650.1 301.7a2.15 2.15 0 1 0 4.3 0a2.15 2.15 0 1 0 -4.3 0zM1642.7 318.2a2.15 2.15 0 1 0 4.3 0a2.15 2.15 0 1 0 -4.3 0zM1650.6 331.6a2.15 2.15 0 1 0 4.3 0a2.15 2.15 0 1 0 -4.3 0zM1652.9 304.5a2.15 2.15 0 1 0 4.3 0a2.15 2.15 0 1 0 -4.3 0zM1646.1 326.9a2.15 2.15 0 1 0 4.3 0a2.15 2.15 0 1 0 -4.3 0zM1649.9 327.7a2.15 2.15 0 1 0 4.3 0a2.15 2.15 0 1 0 -4.3 0zM1640.7 291.2a2.15 2.15 0 1 0 4.3 0a2.15 2.15 0 1 0 -4.3 0zM1644.0 296.2a2.15 2.15 0 1 0 4.3 0a2.15 2.15 0 1 0 -4.3 0zM1649.9 322.4a2.15 2.15 0 1 0 4.3 0a2.15 2.15 0 1 0 -4.3 0zM1651.9 329.2a2.15 2.15 0 1 0 4.3 0a2.15 2.15 0 1 0 -4.3 0zM1640.1 299.1a2.15 2.15 0 1 0 4.3 0a2.15 2.15 0 1 0 -4.3 0zM1648.8 326.3a2.15 2.15 0 1 0 4.3 0a2.15 2.15 0 1 0 -4.3 0zM1643.6 308.6a2.15 2.15 0 1 0 4.3 0a2.15 2.15 0 1 0 -4.3 0zM1644.4 304.1a2.15 2.15 0 1 0 4.3 0a2.15 2.15 0 1 0 -4.3 0zM1652.4 317.2a2.15 2.15 0 1 0 4.3 0a2.15 2.15 0 1 0 -4.3 0zM1647.2 299.5a2.15 2.15 0 1 0 4.3 0a2.15 2.15 0 1 0 -4.3 0zM1652.6 294.0a2.15 2.15 0 1 0 4.3 0a2.15 2.15 0 1 0 -4.3 0zM1646.5 325.1a2.15 2.15 0 1 0 4.3 0a2.15 2.15 0 1 0 -4.3 0zM1642.6 331.5a2.15 2.15 0 1 0 4.3 0a2.15 2.15 0 1 0 -4.3 0zM1643.0 299.4a2.15 2.15 0 1 0 4.3 0a2.15 2.15 0 1 0 -4.3 0z" fill="#7cf54e"/>
<path d="M1921.6 176.4a2.15 2.15 0 1 0 4.3 0a2.15 2.15 0 1 0 -4.3 0zM1909.1 180.0a2.15 2.15 0 1 0 4.3 0a2.15 2.15 0 1 0 -4.3 0zM1914.9 184.2a2.15 2.15 0 1 0 4.3 0a2.15 2.15 0 1 0 -4.3 0zM1900.6 187.7a2.15 2.15 0 1 0 4.3 0a2.15 2.15 0 1 0 -4.3 0zM1904.1 191.7a2.15 2.15 0 1 0 4.3 0a2.15 2.15 0 1 0 -4.3 0zM1916.6 212.8a2.15 2.15 0 1 0 4.3 0a2.15 2.15 0 1 0 -4.3 0zM1905.2 215.9a2.15 2.15 0 1 0 4.3 0a2.15 2.15 0 1 0 -4.3 0zM1920.1 217.5a2.15 2.15 0 1 0 4.3 0a2.15 2.15 0 1 0 -4.3 0zM1910.8 221.7a2.15 2.15 0 1 0 4.3 0a2.15 2.15 0 1 0 -4.3 0zM1914.6 224.0a2.15 2.15 0 1 0 4.3 0a2.15 2.15 0 1 0 -4.3 0zM1911.5 224.8a2.15 2.15 0 1 0 4.3 0a2.15 2.15 0 1 0 -4.3 0zM1916.5 233.4a2.15 2.15 0 1 0 4.3 0a2.15 2.15 0 1 0 -4.3 0zM1909.1 235.0a2.15 2.15 0 1 0 4.3 0a2.15 2.15 0 1 0 -4.3 0zM1912.3 238.8a2.15 2.15 0 1 0 4.3 0a2.15 2.15 0 1 0 -4.3 0zM1907.6 242.7a2.15 2.15 0 1 0 4.3 0a2.15 2.15 0 1 0 -4.3 0zM1916.5 242.7a2.15 2.15 0 1 0 4.3 0a2.15 2.15 0 1 0 -4.3 0zM1917.8 246.6a2.15 2.15 0 1 0 4.3 0a2.15 2.15 0 1 0 -4.3 0zM1904.5 249.0a2.15 2.15 0 1 0 4.3 0a2.15 2.15 0 1 0 -4.3 0zM1904.8 260.9a2.15 2.15 0 1 0 4.3 0a2.15 2.15 0 1 0 -4.3 0zM1920.8 277.2a2.15 2.15 0 1 0 4.3 0a2.15 2.15 0 1 0 -4.3 0zM1926.8 276.8a2.15 2.15 0 1 0 4.3 0a2.15 2.15 0 1 0 -4.3 0zM1909.6 292.1a2.15 2.15 0 1 0 4.3 0a2.15 2.15 0 1 0 -4.3 0zM1903.2 296.1a2.15 2.15 0 1 0 4.3 0a2.15 2.15 0 1 0 -4.3 0zM1910.4 308.2a2.15 2.15 0 1 0 4.3 0a2.15 2.15 0 1 0 -4.3 0zM1920.3 312.4a2.15 2.15 0 1 0 4.3 0a2.15 2.15 0 1 0 -4.3 0zM1918.2 312.9a2.15 2.15 0 1 0 4.3 0a2.15 2.15 0 1 0 -4.3 0zM1916.2 315.0a2.15 2.15 0 1 0 4.3 0a2.15 2.15 0 1 0 -4.3 0zM1915.1 317.6a2.15 2.15 0 1 0 4.3 0a2.15 2.15 0 1 0 -4.3 0zM1913.6 319.7a2.15 2.15 0 1 0 4.3 0a2.15 2.15 0 1 0 -4.3 0zM1914.6 321.2a2.15 2.15 0 1 0 4.3 0a2.15 2.15 0 1 0 -4.3 0zM1906.0 321.4a2.15 2.15 0 1 0 4.3 0a2.15 2.15 0 1 0 -4.3 0zM1906.7 262.0a2.15 2.15 0 1 0 4.3 0a2.15 2.15 0 1 0 -4.3 0zM1915.6 251.4a2.15 2.15 0 1 0 4.3 0a2.15 2.15 0 1 0 -4.3 0zM1908.1 254.7a2.15 2.15 0 1 0 4.3 0a2.15 2.15 0 1 0 -4.3 0zM1914.1 260.0a2.15 2.15 0 1 0 4.3 0a2.15 2.15 0 1 0 -4.3 0zM1909.7 255.6a2.15 2.15 0 1 0 4.3 0a2.15 2.15 0 1 0 -4.3 0zM1907.2 257.5a2.15 2.15 0 1 0 4.3 0a2.15 2.15 0 1 0 -4.3 0zM1915.6 254.3a2.15 2.15 0 1 0 4.3 0a2.15 2.15 0 1 0 -4.3 0zM1911.6 253.3a2.15 2.15 0 1 0 4.3 0a2.15 2.15 0 1 0 -4.3 0zM1916.6 261.2a2.15 2.15 0 1 0 4.3 0a2.15 2.15 0 1 0 -4.3 0zM1913.9 257.1a2.15 2.15 0 1 0 4.3 0a2.15 2.15 0 1 0 -4.3 0zM1908.0 259.9a2.15 2.15 0 1 0 4.3 0a2.15 2.15 0 1 0 -4.3 0zM1910.2 262.1a2.15 2.15 0 1 0 4.3 0a2.15 2.15 0 1 0 -4.3 0zM1915.8 257.0a2.15 2.15 0 1 0 4.3 0a2.15 2.15 0 1 0 -4.3 0zM1913.8 263.3a2.15 2.15 0 1 0 4.3 0a2.15 2.15 0 1 0 -4.3 0zM1915.2 260.5a2.15 2.15 0 1 0 4.3 0a2.15 2.15 0 1 0 -4.3 0zM1911.3 280.1a2.15 2.15 0 1 0 4.3 0a2.15 2.15 0 1 0 -4.3 0zM1914.8 274.0a2.15 2.15 0 1 0 4.3 0a2.15 2.15 0 1 0 -4.3 0zM1915.3 284.9a2.15 2.15 0 1 0 4.3 0a2.15 2.15 0 1 0 -4.3 0zM1908.3 278.7a2.15 2.15 0 1 0 4.3 0a2.15 2.15 0 1 0 -4.3 0zM1918.2 278.3a2.15 2.15 0 1 0 4.3 0a2.15 2.15 0 1 0 -4.3 0zM1912.4 285.2a2.15 2.15 0 1 0 4.3 0a2.15 2.15 0 1 0 -4.3 0zM1909.2 285.8a2.15 2.15 0 1 0 4.3 0a2.15 2.15 0 1 0 -4.3 0zM1911.8 270.9a2.15 2.15 0 1 0 4.3 0a2.15 2.15 0 1 0 -4.3 0zM1911.7 274.2a2.15 2.15 0 1 0 4.3 0a2.15 2.15 0 1 0 -4.3 0zM1910.3 282.8a2.15 2.15 0 1 0 4.3 0a2.15 2.15 0 1 0 -4.3 0zM1916.8 280.1a2.15 2.15 0 1 0 4.3 0a2.15 2.15 0 1 0 -4.3 0zM1916.9 283.1a2.15 2.15 0 1 0 4.3 0a2.15 2.15 0 1 0 -4.3 0zM1917.0 275.7a2.15 2.15 0 1 0 4.3 0a2.15 2.15 0 1 0 -4.3 0zM1912.5 273.0a2.15 2.15 0 1 0 4.3 0a2.15 2.15 0 1 0 -4.3 0zM1907.9 281.5a2.15 2.15 0 1 0 4.3 0a2.15 2.15 0 1 0 -4.3 0zM1915.1 275.8a2.15 2.15 0 1 0 4.3 0a2.15 2.15 0 1 0 -4.3 0zM1907.5 248.5a2.15 2.15 0 1 0 4.3 0a2.15 2.15 0 1 0 -4.3 0zM1913.4 236.2a2.15 2.15 0 1 0 4.3 0a2.15 2.15 0 1 0 -4.3 0zM1907.1 238.1a2.15 2.15 0 1 0 4.3 0a2.15 2.15 0 1 0 -4.3 0zM1913.2 247.7a2.15 2.15 0 1 0 4.3 0a2.15 2.15 0 1 0 -4.3 0zM1915.3 248.6a2.15 2.15 0 1 0 4.3 0a2.15 2.15 0 1 0 -4.3 0z" fill="#f0565a"/>
<path d="M1951.6 120.3a2.15 2.15 0 1 0 4.3 0a2.15 2.15 0 1 0 -4.3 0zM1956.4 168.6a2.15 2.15 0 1 0 4.3 0a2.15 2.15 0 1 0 -4.3 0zM1951.3 191.7a2.15 2.15 0 1 0 4.3 0a2.15 2.15 0 1 0 -4.3 0zM1956.3 194.1a2.15 2.15 0 1 0 4.3 0a2.15 2.15 0 1 0 -4.3 0zM1946.3 209.5a2.15 2.15 0 1 0 4.3 0a2.15 2.15 0 1 0 -4.3 0zM1948.8 210.5a2.15 2.15 0 1 0 4.3 0a2.15 2.15 0 1 0 -4.3 0zM1951.3 212.0a2.15 2.15 0 1 0 4.3 0a2.15 2.15 0 1 0 -4.3 0zM1947.3 214.0a2.15 2.15 0 1 0 4.3 0a2.15 2.15 0 1 0 -4.3 0zM1950.3 215.3a2.15 2.15 0 1 0 4.3 0a2.15 2.15 0 1 0 -4.3 0zM1951.0 220.9a2.15 2.15 0 1 0 4.3 0a2.15 2.15 0 1 0 -4.3 0zM1946.6 227.1a2.15 2.15 0 1 0 4.3 0a2.15 2.15 0 1 0 -4.3 0zM1947.4 232.6a2.15 2.15 0 1 0 4.3 0a2.15 2.15 0 1 0 -4.3 0zM1949.8 235.7a2.15 2.15 0 1 0 4.3 0a2.15 2.15 0 1 0 -4.3 0zM1945.0 236.5a2.15 2.15 0 1 0 4.3 0a2.15 2.15 0 1 0 -4.3 0zM1939.6 237.3a2.15 2.15 0 1 0 4.3 0a2.15 2.15 0 1 0 -4.3 0zM1941.1 245.1a2.15 2.15 0 1 0 4.3 0a2.15 2.15 0 1 0 -4.3 0zM1947.4 244.3a2.15 2.15 0 1 0 4.3 0a2.15 2.15 0 1 0 -4.3 0zM1952.8 242.7a2.15 2.15 0 1 0 4.3 0a2.15 2.15 0 1 0 -4.3 0zM1955.2 248.2a2.15 2.15 0 1 0 4.3 0a2.15 2.15 0 1 0 -4.3 0zM1949.8 249.0a2.15 2.15 0 1 0 4.3 0a2.15 2.15 0 1 0 -4.3 0zM1957.8 261.2a2.15 2.15 0 1 0 4.3 0a2.15 2.15 0 1 0 -4.3 0zM1947.8 294.7a2.15 2.15 0 1 0 4.3 0a2.15 2.15 0 1 0 -4.3 0zM1950.5 295.2a2.15 2.15 0 1 0 4.3 0a2.15 2.15 0 1 0 -4.3 0zM1962.9 295.2a2.15 2.15 0 1 0 4.3 0a2.15 2.15 0 1 0 -4.3 0zM1946.3 307.7a2.15 2.15 0 1 0 4.3 0a2.15 2.15 0 1 0 -4.3 0zM1951.5 307.5a2.15 2.15 0 1 0 4.3 0a2.15 2.15 0 1 0 -4.3 0zM1954.1 307.7a2.15 2.15 0 1 0 4.3 0a2.15 2.15 0 1 0 -4.3 0zM1956.2 307.5a2.15 2.15 0 1 0 4.3 0a2.15 2.15 0 1 0 -4.3 0zM1944.2 313.2a2.15 2.15 0 1 0 4.3 0a2.15 2.15 0 1 0 -4.3 0zM1943.5 315.5a2.15 2.15 0 1 0 4.3 0a2.15 2.15 0 1 0 -4.3 0zM1942.9 317.6a2.15 2.15 0 1 0 4.3 0a2.15 2.15 0 1 0 -4.3 0zM1936.9 321.0a2.15 2.15 0 1 0 4.3 0a2.15 2.15 0 1 0 -4.3 0zM1942.1 326.9a2.15 2.15 0 1 0 4.3 0a2.15 2.15 0 1 0 -4.3 0zM1945.3 330.1a2.15 2.15 0 1 0 4.3 0a2.15 2.15 0 1 0 -4.3 0zM1951.5 330.1a2.15 2.15 0 1 0 4.3 0a2.15 2.15 0 1 0 -4.3 0zM1952.2 340.5a2.15 2.15 0 1 0 4.3 0a2.15 2.15 0 1 0 -4.3 0zM1940.6 354.2a2.15 2.15 0 1 0 4.3 0a2.15 2.15 0 1 0 -4.3 0zM1949.6 262.1a2.15 2.15 0 1 0 4.3 0a2.15 2.15 0 1 0 -4.3 0zM1949.3 251.9a2.15 2.15 0 1 0 4.3 0a2.15 2.15 0 1 0 -4.3 0zM1944.9 263.6a2.15 2.15 0 1 0 4.3 0a2.15 2.15 0 1 0 -4.3 0zM1948.2 257.3a2.15 2.15 0 1 0 4.3 0a2.15 2.15 0 1 0 -4.3 0zM1953.5 252.1a2.15 2.15 0 1 0 4.3 0a2.15 2.15 0 1 0 -4.3 0zM1947.8 265.7a2.15 2.15 0 1 0 4.3 0a2.15 2.15 0 1 0 -4.3 0zM1951.3 260.4a2.15 2.15 0 1 0 4.3 0a2.15 2.15 0 1 0 -4.3 0zM1946.7 257.5a2.15 2.15 0 1 0 4.3 0a2.15 2.15 0 1 0 -4.3 0zM1952.3 255.4a2.15 2.15 0 1 0 4.3 0a2.15 2.15 0 1 0 -4.3 0zM1949.4 255.1a2.15 2.15 0 1 0 4.3 0a2.15 2.15 0 1 0 -4.3 0zM1947.5 259.8a2.15 2.15 0 1 0 4.3 0a2.15 2.15 0 1 0 -4.3 0zM1945.3 255.5a2.15 2.15 0 1 0 4.3 0a2.15 2.15 0 1 0 -4.3 0zM1938.9 273.8a2.15 2.15 0 1 0 4.3 0a2.15 2.15 0 1 0 -4.3 0zM1952.5 282.2a2.15 2.15 0 1 0 4.3 0a2.15 2.15 0 1 0 -4.3 0zM1950.3 272.0a2.15 2.15 0 1 0 4.3 0a2.15 2.15 0 1 0 -4.3 0zM1950.5 288.3a2.15 2.15 0 1 0 4.3 0a2.15 2.15 0 1 0 -4.3 0zM1943.4 278.4a2.15 2.15 0 1 0 4.3 0a2.15 2.15 0 1 0 -4.3 0zM1939.7 281.4a2.15 2.15 0 1 0 4.3 0a2.15 2.15 0 1 0 -4.3 0zM1952.6 278.9a2.15 2.15 0 1 0 4.3 0a2.15 2.15 0 1 0 -4.3 0zM1939.1 277.7a2.15 2.15 0 1 0 4.3 0a2.15 2.15 0 1 0 -4.3 0zM1945.0 272.0a2.15 2.15 0 1 0 4.3 0a2.15 2.15 0 1 0 -4.3 0zM1940.7 289.3a2.15 2.15 0 1 0 4.3 0a2.15 2.15 0 1 0 -4.3 0zM1940.8 270.4a2.15 2.15 0 1 0 4.3 0a2.15 2.15 0 1 0 -4.3 0zM1939.6 285.5a2.15 2.15 0 1 0 4.3 0a2.15 2.15 0 1 0 -4.3 0zM1945.8 288.6a2.15 2.15 0 1 0 4.3 0a2.15 2.15 0 1 0 -4.3 0zM1949.6 270.2a2.15 2.15 0 1 0 4.3 0a2.15 2.15 0 1 0 -4.3 0zM1943.5 284.6a2.15 2.15 0 1 0 4.3 0a2.15 2.15 0 1 0 -4.3 0zM1944.4 281.5a2.15 2.15 0 1 0 4.3 0a2.15 2.15 0 1 0 -4.3 0zM1948.3 278.4a2.15 2.15 0 1 0 4.3 0a2.15 2.15 0 1 0 -4.3 0zM1953.0 285.7a2.15 2.15 0 1 0 4.3 0a2.15 2.15 0 1 0 -4.3 0z" fill="#7cf54e"/>
<line x1="1592.40" y1="312.60" x2="1592.40" y2="317.40" stroke="#000" stroke-width="3.6"/>
<line x1="1668.20" y1="257.40" x2="1668.20" y2="263.40" stroke="#000" stroke-width="3.6"/>
<line x1="1895.00" y1="252.50" x2="1895.00" y2="260.50" stroke="#000" stroke-width="3.6"/>
<line x1="1970.50" y1="260.40" x2="1970.50" y2="269.20" stroke="#000" stroke-width="3.6"/>
<text x="1507.05" y="120.40" font-size="26.0" text-anchor="end" font-weight="normal" font-family="'Liberation Sans', Arimo, Helvetica, Arial, sans-serif"  class="s">1</text>
<text x="1507.05" y="203.90" font-size="26.0" text-anchor="end" font-weight="normal" font-family="'Liberation Sans', Arimo, Helvetica, Arial, sans-serif"  class="s">0.5</text>
<text x="1507.05" y="287.40" font-size="26.0" text-anchor="end" font-weight="normal" font-family="'Liberation Sans', Arimo, Helvetica, Arial, sans-serif"  class="s">0</text>
<text x="1507.05" y="370.90" font-size="26.0" text-anchor="end" font-weight="normal" font-family="'Liberation Sans', Arimo, Helvetica, Arial, sans-serif"  class="s">-0.5</text>
<text x="1507.05" y="454.40" font-size="26.0" text-anchor="end" font-weight="normal" font-family="'Liberation Sans', Arimo, Helvetica, Arial, sans-serif"  class="s">-1</text>
<text transform="translate(1448.95,275.70) rotate(-90)" font-size="34.0" text-anchor="middle" font-family="'Liberation Sans', Arimo, Helvetica, Arial, sans-serif" class="s">Effect size</text>
<text transform="translate(1574.40,523.80) scale(1.05,1)" font-size="42" font-family="'Liberation Serif', 'Times New Roman', Times, serif">λ</text>
<text x="1598.20" y="530.30" font-size="29.5" font-style="italic" font-family="'Liberation Serif', 'Times New Roman', Times, serif">s</text>
<text transform="translate(1625.20,529.20) scale(1.1,1)" font-size="49" font-family="'Liberation Serif', 'Times New Roman', Times, serif">&gt;</text>
<text transform="translate(1668.20,523.80) scale(0.94,1)" font-size="43" font-family="'Liberation Serif', 'Times New Roman', Times, serif">0</text>
<text transform="translate(1877.10,523.80) scale(1.05,1)" font-size="42" font-family="'Liberation Serif', 'Times New Roman', Times, serif">λ</text>
<text x="1900.90" y="530.30" font-size="29.5" font-style="italic" font-family="'Liberation Serif', 'Times New Roman', Times, serif">s</text>
<text transform="translate(1927.20,529.20) scale(1.1,1)" font-size="49" font-family="'Liberation Serif', 'Times New Roman', Times, serif">&lt;</text>
<text transform="translate(1969.80,523.80) scale(0.94,1)" font-size="43" font-family="'Liberation Serif', 'Times New Roman', Times, serif">0</text>
<rect x="1696.1" y="381.8" width="55.2" height="30.5" fill="#f0969b" stroke="#0a0a0a" stroke-width="1.7"/>
<rect x="1696.1" y="422.8" width="55.2" height="30.5" fill="#aafb8b" stroke="#0a0a0a" stroke-width="1.7"/>
<text x="1816.50" y="362.40" font-size="34.0" text-anchor="start" font-weight="normal" font-family="'Liberation Sans', Arimo, Helvetica, Arial, sans-serif"  class="s">Effect</text>
<text x="1756.50" y="409.40" font-size="34.0" text-anchor="start" font-weight="normal" font-family="'Liberation Sans', Arimo, Helvetica, Arial, sans-serif"  class="s">True stochasticity</text>
<text x="1756.50" y="449.60" font-size="34.0" text-anchor="start" font-weight="normal" font-family="'Liberation Sans', Arimo, Helvetica, Arial, sans-serif"  class="s">True volatility</text>
<rect x="1583.20" y="859.50" width="18.40" height="15.25" fill="#f0969b" stroke="#0a0a0a" stroke-width="1.7"/>
<rect x="1659.00" y="830.85" width="18.40" height="28.65" fill="#aafb8b" stroke="#0a0a0a" stroke-width="1.7"/>
<rect x="1885.80" y="859.50" width="18.40" height="28.75" fill="#f0969b" stroke="#0a0a0a" stroke-width="1.7"/>
<rect x="1961.30" y="859.50" width="18.40" height="17.85" fill="#aafb8b" stroke="#0a0a0a" stroke-width="1.7"/>
<line x1="1517.55" y1="659.50" x2="1517.55" y2="1060.50" stroke="#7c7c7c" stroke-width="1.1"/>
<line x1="1517.00" y1="1059.90" x2="2047.05" y2="1059.90" stroke="#525252" stroke-width="1.3"/>
<line x1="1517.45" y1="859.50" x2="2047.05" y2="859.50" stroke="#525252" stroke-width="1.3"/>
<path d="M1602.8 758.3a2.15 2.15 0 1 0 4.3 0a2.15 2.15 0 1 0 -4.3 0zM1606.8 762.5a2.15 2.15 0 1 0 4.3 0a2.15 2.15 0 1 0 -4.3 0zM1606.8 766.4a2.15 2.15 0 1 0 4.3 0a2.15 2.15 0 1 0 -4.3 0zM1601.2 770.0a2.15 2.15 0 1 0 4.3 0a2.15 2.15 0 1 0 -4.3 0zM1606.8 773.8a2.15 2.15 0 1 0 4.3 0a2.15 2.15 0 1 0 -4.3 0zM1613.8 774.2a2.15 2.15 0 1 0 4.3 0a2.15 2.15 0 1 0 -4.3 0zM1618.0 784.9a2.15 2.15 0 1 0 4.3 0a2.15 2.15 0 1 0 -4.3 0zM1618.5 798.4a2.15 2.15 0 1 0 4.3 0a2.15 2.15 0 1 0 -4.3 0zM1609.0 803.4a2.15 2.15 0 1 0 4.3 0a2.15 2.15 0 1 0 -4.3 0zM1612.6 806.2a2.15 2.15 0 1 0 4.3 0a2.15 2.15 0 1 0 -4.3 0zM1615.2 806.2a2.15 2.15 0 1 0 4.3 0a2.15 2.15 0 1 0 -4.3 0zM1607.4 811.7a2.15 2.15 0 1 0 4.3 0a2.15 2.15 0 1 0 -4.3 0zM1602.0 814.8a2.15 2.15 0 1 0 4.3 0a2.15 2.15 0 1 0 -4.3 0zM1606.3 817.9a2.15 2.15 0 1 0 4.3 0a2.15 2.15 0 1 0 -4.3 0zM1614.6 817.5a2.15 2.15 0 1 0 4.3 0a2.15 2.15 0 1 0 -4.3 0zM1605.6 823.4a2.15 2.15 0 1 0 4.3 0a2.15 2.15 0 1 0 -4.3 0zM1611.0 823.9a2.15 2.15 0 1 0 4.3 0a2.15 2.15 0 1 0 -4.3 0zM1607.9 827.3a2.15 2.15 0 1 0 4.3 0a2.15 2.15 0 1 0 -4.3 0zM1614.9 827.3a2.15 2.15 0 1 0 4.3 0a2.15 2.15 0 1 0 -4.3 0zM1605.6 831.2a2.15 2.15 0 1 0 4.3 0a2.15 2.15 0 1 0 -4.3 0zM1601.8 836.6a2.15 2.15 0 1 0 4.3 0a2.15 2.15 0 1 0 -4.3 0zM1623.5 841.3a2.15 2.15 0 1 0 4.3 0a2.15 2.15 0 1 0 -4.3 0zM1625.8 880.2a2.15 2.15 0 1 0 4.3 0a2.15 2.15 0 1 0 -4.3 0zM1619.3 902.4a2.15 2.15 0 1 0 4.3 0a2.15 2.15 0 1 0 -4.3 0zM1602.8 911.0a2.15 2.15 0 1 0 4.3 0a2.15 2.15 0 1 0 -4.3 0zM1623.0 911.8a2.15 2.15 0 1 0 4.3 0a2.15 2.15 0 1 0 -4.3 0zM1623.5 915.7a2.15 2.15 0 1 0 4.3 0a2.15 2.15 0 1 0 -4.3 0zM1594.6 920.3a2.15 2.15 0 1 0 4.3 0a2.15 2.15 0 1 0 -4.3 0zM1604.0 924.7a2.15 2.15 0 1 0 4.3 0a2.15 2.15 0 1 0 -4.3 0zM1618.0 920.8a2.15 2.15 0 1 0 4.3 0a2.15 2.15 0 1 0 -4.3 0zM1616.9 926.6a2.15 2.15 0 1 0 4.3 0a2.15 2.15 0 1 0 -4.3 0zM1608.4 926.6a2.15 2.15 0 1 0 4.3 0a2.15 2.15 0 1 0 -4.3 0zM1620.4 932.8a2.15 2.15 0 1 0 4.3 0a2.15 2.15 0 1 0 -4.3 0zM1602.4 935.5a2.15 2.15 0 1 0 4.3 0a2.15 2.15 0 1 0 -4.3 0zM1607.9 935.2a2.15 2.15 0 1 0 4.3 0a2.15 2.15 0 1 0 -4.3 0zM1608.4 942.2a2.15 2.15 0 1 0 4.3 0a2.15 2.15 0 1 0 -4.3 0zM1610.2 944.5a2.15 2.15 0 1 0 4.3 0a2.15 2.15 0 1 0 -4.3 0zM1609.9 948.4a2.15 2.15 0 1 0 4.3 0a2.15 2.15 0 1 0 -4.3 0zM1613.0 950.5a2.15 2.15 0 1 0 4.3 0a2.15 2.15 0 1 0 -4.3 0zM1616.2 956.2a2.15 2.15 0 1 0 4.3 0a2.15 2.15 0 1 0 -4.3 0zM1609.5 965.9a2.15 2.15 0 1 0 4.3 0a2.15 2.15 0 1 0 -4.3 0zM1620.8 970.3a2.15 2.15 0 1 0 4.3 0a2.15 2.15 0 1 0 -4.3 0zM1608.4 972.3a2.15 2.15 0 1 0 4.3 0a2.15 2.15 0 1 0 -4.3 0zM1606.3 979.9a2.15 2.15 0 1 0 4.3 0a2.15 2.15 0 1 0 -4.3 0zM1612.3 1005.4a2.15 2.15 0 1 0 4.3 0a2.15 2.15 0 1 0 -4.3 0zM1613.8 846.8a2.15 2.15 0 1 0 4.3 0a2.15 2.15 0 1 0 -4.3 0zM1612.5 840.0a2.15 2.15 0 1 0 4.3 0a2.15 2.15 0 1 0 -4.3 0zM1604.4 839.4a2.15 2.15 0 1 0 4.3 0a2.15 2.15 0 1 0 -4.3 0zM1604.9 846.8a2.15 2.15 0 1 0 4.3 0a2.15 2.15 0 1 0 -4.3 0zM1615.8 846.5a2.15 2.15 0 1 0 4.3 0a2.15 2.15 0 1 0 -4.3 0zM1609.0 837.1a2.15 2.15 0 1 0 4.3 0a2.15 2.15 0 1 0 -4.3 0zM1616.9 839.0a2.15 2.15 0 1 0 4.3 0a2.15 2.15 0 1 0 -4.3 0zM1615.0 842.0a2.15 2.15 0 1 0 4.3 0a2.15 2.15 0 1 0 -4.3 0zM1614.8 839.0a2.15 2.15 0 1 0 4.3 0a2.15 2.15 0 1 0 -4.3 0zM1610.8 843.7a2.15 2.15 0 1 0 4.3 0a2.15 2.15 0 1 0 -4.3 0zM1606.8 845.1a2.15 2.15 0 1 0 4.3 0a2.15 2.15 0 1 0 -4.3 0zM1606.4 836.6a2.15 2.15 0 1 0 4.3 0a2.15 2.15 0 1 0 -4.3 0zM1611.4 836.3a2.15 2.15 0 1 0 4.3 0a2.15 2.15 0 1 0 -4.3 0zM1604.8 848.9a2.15 2.15 0 1 0 4.3 0a2.15 2.15 0 1 0 -4.3 0zM1615.4 848.5a2.15 2.15 0 1 0 4.3 0a2.15 2.15 0 1 0 -4.3 0zM1607.1 838.3a2.15 2.15 0 1 0 4.3 0a2.15 2.15 0 1 0 -4.3 0zM1610.5 848.3a2.15 2.15 0 1 0 4.3 0a2.15 2.15 0 1 0 -4.3 0zM1607.8 843.3a2.15 2.15 0 1 0 4.3 0a2.15 2.15 0 1 0 -4.3 0zM1613.0 848.4a2.15 2.15 0 1 0 4.3 0a2.15 2.15 0 1 0 -4.3 0zM1607.8 840.6a2.15 2.15 0 1 0 4.3 0a2.15 2.15 0 1 0 -4.3 0zM1616.8 851.7a2.15 2.15 0 1 0 4.3 0a2.15 2.15 0 1 0 -4.3 0zM1603.1 855.4a2.15 2.15 0 1 0 4.3 0a2.15 2.15 0 1 0 -4.3 0zM1612.5 878.0a2.15 2.15 0 1 0 4.3 0a2.15 2.15 0 1 0 -4.3 0zM1610.6 856.2a2.15 2.15 0 1 0 4.3 0a2.15 2.15 0 1 0 -4.3 0zM1602.8 884.3a2.15 2.15 0 1 0 4.3 0a2.15 2.15 0 1 0 -4.3 0zM1604.6 866.5a2.15 2.15 0 1 0 4.3 0a2.15 2.15 0 1 0 -4.3 0zM1616.9 873.2a2.15 2.15 0 1 0 4.3 0a2.15 2.15 0 1 0 -4.3 0zM1616.6 867.7a2.15 2.15 0 1 0 4.3 0a2.15 2.15 0 1 0 -4.3 0zM1614.6 870.5a2.15 2.15 0 1 0 4.3 0a2.15 2.15 0 1 0 -4.3 0zM1616.8 862.4a2.15 2.15 0 1 0 4.3 0a2.15 2.15 0 1 0 -4.3 0zM1607.7 883.4a2.15 2.15 0 1 0 4.3 0a2.15 2.15 0 1 0 -4.3 0zM1610.5 860.6a2.15 2.15 0 1 0 4.3 0a2.15 2.15 0 1 0 -4.3 0zM1619.6 884.2a2.15 2.15 0 1 0 4.3 0a2.15 2.15 0 1 0 -4.3 0zM1619.3 850.6a2.15 2.15 0 1 0 4.3 0a2.15 2.15 0 1 0 -4.3 0zM1604.6 850.1a2.15 2.15 0 1 0 4.3 0a2.15 2.15 0 1 0 -4.3 0zM1618.1 858.1a2.15 2.15 0 1 0 4.3 0a2.15 2.15 0 1 0 -4.3 0zM1605.3 878.5a2.15 2.15 0 1 0 4.3 0a2.15 2.15 0 1 0 -4.3 0zM1606.9 857.6a2.15 2.15 0 1 0 4.3 0a2.15 2.15 0 1 0 -4.3 0zM1615.0 865.1a2.15 2.15 0 1 0 4.3 0a2.15 2.15 0 1 0 -4.3 0zM1616.9 882.0a2.15 2.15 0 1 0 4.3 0a2.15 2.15 0 1 0 -4.3 0zM1610.8 850.6a2.15 2.15 0 1 0 4.3 0a2.15 2.15 0 1 0 -4.3 0zM1608.6 872.0a2.15 2.15 0 1 0 4.3 0a2.15 2.15 0 1 0 -4.3 0zM1602.2 869.2a2.15 2.15 0 1 0 4.3 0a2.15 2.15 0 1 0 -4.3 0zM1608.8 877.8a2.15 2.15 0 1 0 4.3 0a2.15 2.15 0 1 0 -4.3 0zM1611.1 869.6a2.15 2.15 0 1 0 4.3 0a2.15 2.15 0 1 0 -4.3 0zM1605.3 853.8a2.15 2.15 0 1 0 4.3 0a2.15 2.15 0 1 0 -4.3 0zM1614.4 857.2a2.15 2.15 0 1 0 4.3 0a2.15 2.15 0 1 0 -4.3 0zM1614.4 853.8a2.15 2.15 0 1 0 4.3 0a2.15 2.15 0 1 0 -4.3 0zM1617.4 876.5a2.15 2.15 0 1 0 4.3 0a2.15 2.15 0 1 0 -4.3 0zM1612.5 881.9a2.15 2.15 0 1 0 4.3 0a2.15 2.15 0 1 0 -4.3 0zM1604.7 871.2a2.15 2.15 0 1 0 4.3 0a2.15 2.15 0 1 0 -4.3 0zM1609.0 865.6a2.15 2.15 0 1 0 4.3 0a2.15 2.15 0 1 0 -4.3 0zM1606.4 862.4a2.15 2.15 0 1 0 4.3 0a2.15 2.15 0 1 0 -4.3 0zM1616.2 883.8a2.15 2.15 0 1 0 4.3 0a2.15 2.15 0 1 0 -4.3 0zM1613.2 863.5a2.15 2.15 0 1 0 4.3 0a2.15 2.15 0 1 0 -4.3 0zM1611.4 852.6a2.15 2.15 0 1 0 4.3 0a2.15 2.15 0 1 0 -4.3 0zM1619.1 878.7a2.15 2.15 0 1 0 4.3 0a2.15 2.15 0 1 0 -4.3 0zM1614.0 860.1a2.15 2.15 0 1 0 4.3 0a2.15 2.15 0 1 0 -4.3 0zM1611.6 884.2a2.15 2.15 0 1 0 4.3 0a2.15 2.15 0 1 0 -4.3 0zM1618.8 860.6a2.15 2.15 0 1 0 4.3 0a2.15 2.15 0 1 0 -4.3 0zM1618.9 869.0a2.15 2.15 0 1 0 4.3 0a2.15 2.15 0 1 0 -4.3 0zM1607.3 865.0a2.15 2.15 0 1 0 4.3 0a2.15 2.15 0 1 0 -4.3 0zM1612.1 874.1a2.15 2.15 0 1 0 4.3 0a2.15 2.15 0 1 0 -4.3 0zM1612.9 867.4a2.15 2.15 0 1 0 4.3 0a2.15 2.15 0 1 0 -4.3 0zM1606.0 869.0a2.15 2.15 0 1 0 4.3 0a2.15 2.15 0 1 0 -4.3 0zM1602.4 863.0a2.15 2.15 0 1 0 4.3 0a2.15 2.15 0 1 0 -4.3 0zM1607.1 886.5a2.15 2.15 0 1 0 4.3 0a2.15 2.15 0 1 0 -4.3 0zM1617.4 866.3a2.15 2.15 0 1 0 4.3 0a2.15 2.15 0 1 0 -4.3 0zM1604.1 858.3a2.15 2.15 0 1 0 4.3 0a2.15 2.15 0 1 0 -4.3 0zM1608.3 875.0a2.15 2.15 0 1 0 4.3 0a2.15 2.15 0 1 0 -4.3 0zM1615.1 877.5a2.15 2.15 0 1 0 4.3 0a2.15 2.15 0 1 0 -4.3 0zM1618.2 854.7a2.15 2.15 0 1 0 4.3 0a2.15 2.15 0 1 0 -4.3 0zM1612.2 865.5a2.15 2.15 0 1 0 4.3 0a2.15 2.15 0 1 0 -4.3 0zM1610.1 866.9a2.15 2.15 0 1 0 4.3 0a2.15 2.15 0 1 0 -4.3 0zM1608.9 861.9a2.15 2.15 0 1 0 4.3 0a2.15 2.15 0 1 0 -4.3 0zM1605.4 861.2a2.15 2.15 0 1 0 4.3 0a2.15 2.15 0 1 0 -4.3 0zM1618.3 862.0a2.15 2.15 0 1 0 4.3 0a2.15 2.15 0 1 0 -4.3 0zM1602.3 851.8a2.15 2.15 0 1 0 4.3 0a2.15 2.15 0 1 0 -4.3 0zM1611.6 886.9a2.15 2.15 0 1 0 4.3 0a2.15 2.15 0 1 0 -4.3 0zM1614.1 864.4a2.15 2.15 0 1 0 4.3 0a2.15 2.15 0 1 0 -4.3 0zM1608.3 885.1a2.15 2.15 0 1 0 4.3 0a2.15 2.15 0 1 0 -4.3 0zM1609.2 870.8a2.15 2.15 0 1 0 4.3 0a2.15 2.15 0 1 0 -4.3 0zM1608.7 897.5a2.15 2.15 0 1 0 4.3 0a2.15 2.15 0 1 0 -4.3 0zM1617.0 899.9a2.15 2.15 0 1 0 4.3 0a2.15 2.15 0 1 0 -4.3 0zM1615.6 895.1a2.15 2.15 0 1 0 4.3 0a2.15 2.15 0 1 0 -4.3 0zM1604.8 892.2a2.15 2.15 0 1 0 4.3 0a2.15 2.15 0 1 0 -4.3 0zM1611.7 890.5a2.15 2.15 0 1 0 4.3 0a2.15 2.15 0 1 0 -4.3 0zM1601.9 893.7a2.15 2.15 0 1 0 4.3 0a2.15 2.15 0 1 0 -4.3 0zM1614.9 897.0a2.15 2.15 0 1 0 4.3 0a2.15 2.15 0 1 0 -4.3 0zM1610.1 902.0a2.15 2.15 0 1 0 4.3 0a2.15 2.15 0 1 0 -4.3 0zM1613.6 891.3a2.15 2.15 0 1 0 4.3 0a2.15 2.15 0 1 0 -4.3 0zM1602.8 890.1a2.15 2.15 0 1 0 4.3 0a2.15 2.15 0 1 0 -4.3 0zM1612.9 894.2a2.15 2.15 0 1 0 4.3 0a2.15 2.15 0 1 0 -4.3 0zM1603.4 900.8a2.15 2.15 0 1 0 4.3 0a2.15 2.15 0 1 0 -4.3 0zM1610.9 901.5a2.15 2.15 0 1 0 4.3 0a2.15 2.15 0 1 0 -4.3 0zM1606.7 900.8a2.15 2.15 0 1 0 4.3 0a2.15 2.15 0 1 0 -4.3 0zM1614.5 893.6a2.15 2.15 0 1 0 4.3 0a2.15 2.15 0 1 0 -4.3 0zM1605.6 894.7a2.15 2.15 0 1 0 4.3 0a2.15 2.15 0 1 0 -4.3 0zM1607.4 892.2a2.15 2.15 0 1 0 4.3 0a2.15 2.15 0 1 0 -4.3 0zM1610.1 894.6a2.15 2.15 0 1 0 4.3 0a2.15 2.15 0 1 0 -4.3 0zM1612.1 903.4a2.15 2.15 0 1 0 4.3 0a2.15 2.15 0 1 0 -4.3 0zM1613.5 909.5a2.15 2.15 0 1 0 4.3 0a2.15 2.15 0 1 0 -4.3 0zM1610.7 917.5a2.15 2.15 0 1 0 4.3 0a2.15 2.15 0 1 0 -4.3 0zM1612.3 920.4a2.15 2.15 0 1 0 4.3 0a2.15 2.15 0 1 0 -4.3 0zM1611.0 922.9a2.15 2.15 0 1 0 4.3 0a2.15 2.15 0 1 0 -4.3 0zM1614.8 914.9a2.15 2.15 0 1 0 4.3 0a2.15 2.15 0 1 0 -4.3 0zM1614.6 904.7a2.15 2.15 0 1 0 4.3 0a2.15 2.15 0 1 0 -4.3 0zM1612.7 913.9a2.15 2.15 0 1 0 4.3 0a2.15 2.15 0 1 0 -4.3 0zM1610.8 920.7a2.15 2.15 0 1 0 4.3 0a2.15 2.15 0 1 0 -4.3 0zM1610.4 914.4a2.15 2.15 0 1 0 4.3 0a2.15 2.15 0 1 0 -4.3 0zM1611.6 907.0a2.15 2.15 0 1 0 4.3 0a2.15 2.15 0 1 0 -4.3 0zM1614.8 919.0a2.15 2.15 0 1 0 4.3 0a2.15 2.15 0 1 0 -4.3 0z" fill="#f0565a"/>
<path d="M1641.4 702.5a2.15 2.15 0 1 0 4.3 0a2.15 2.15 0 1 0 -4.3 0zM1637.9 732.6a2.15 2.15 0 1 0 4.3 0a2.15 2.15 0 1 0 -4.3 0zM1639.6 754.0a2.15 2.15 0 1 0 4.3 0a2.15 2.15 0 1 0 -4.3 0zM1648.0 754.7a2.15 2.15 0 1 0 4.3 0a2.15 2.15 0 1 0 -4.3 0zM1657.8 819.2a2.15 2.15 0 1 0 4.3 0a2.15 2.15 0 1 0 -4.3 0zM1660.2 825.7a2.15 2.15 0 1 0 4.3 0a2.15 2.15 0 1 0 -4.3 0zM1653.9 862.3a2.15 2.15 0 1 0 4.3 0a2.15 2.15 0 1 0 -4.3 0zM1659.4 861.8a2.15 2.15 0 1 0 4.3 0a2.15 2.15 0 1 0 -4.3 0zM1630.8 875.1a2.15 2.15 0 1 0 4.3 0a2.15 2.15 0 1 0 -4.3 0zM1644.6 873.5a2.15 2.15 0 1 0 4.3 0a2.15 2.15 0 1 0 -4.3 0zM1650.0 872.0a2.15 2.15 0 1 0 4.3 0a2.15 2.15 0 1 0 -4.3 0zM1649.2 877.4a2.15 2.15 0 1 0 4.3 0a2.15 2.15 0 1 0 -4.3 0zM1647.4 884.9a2.15 2.15 0 1 0 4.3 0a2.15 2.15 0 1 0 -4.3 0zM1654.2 885.2a2.15 2.15 0 1 0 4.3 0a2.15 2.15 0 1 0 -4.3 0zM1657.0 886.8a2.15 2.15 0 1 0 4.3 0a2.15 2.15 0 1 0 -4.3 0zM1644.6 891.2a2.15 2.15 0 1 0 4.3 0a2.15 2.15 0 1 0 -4.3 0zM1650.8 890.2a2.15 2.15 0 1 0 4.3 0a2.15 2.15 0 1 0 -4.3 0zM1643.8 895.9a2.15 2.15 0 1 0 4.3 0a2.15 2.15 0 1 0 -4.3 0zM1637.5 903.5a2.15 2.15 0 1 0 4.3 0a2.15 2.15 0 1 0 -4.3 0zM1642.8 906.8a2.15 2.15 0 1 0 4.3 0a2.15 2.15 0 1 0 -4.3 0zM1659.1 905.1a2.15 2.15 0 1 0 4.3 0a2.15 2.15 0 1 0 -4.3 0zM1651.1 915.2a2.15 2.15 0 1 0 4.3 0a2.15 2.15 0 1 0 -4.3 0zM1644.9 933.1a2.15 2.15 0 1 0 4.3 0a2.15 2.15 0 1 0 -4.3 0zM1641.8 936.7a2.15 2.15 0 1 0 4.3 0a2.15 2.15 0 1 0 -4.3 0zM1645.4 775.5a2.15 2.15 0 1 0 4.3 0a2.15 2.15 0 1 0 -4.3 0zM1653.6 777.0a2.15 2.15 0 1 0 4.3 0a2.15 2.15 0 1 0 -4.3 0zM1645.2 788.3a2.15 2.15 0 1 0 4.3 0a2.15 2.15 0 1 0 -4.3 0zM1644.3 770.8a2.15 2.15 0 1 0 4.3 0a2.15 2.15 0 1 0 -4.3 0zM1653.5 781.4a2.15 2.15 0 1 0 4.3 0a2.15 2.15 0 1 0 -4.3 0zM1648.9 783.7a2.15 2.15 0 1 0 4.3 0a2.15 2.15 0 1 0 -4.3 0zM1653.4 785.5a2.15 2.15 0 1 0 4.3 0a2.15 2.15 0 1 0 -4.3 0zM1645.1 785.8a2.15 2.15 0 1 0 4.3 0a2.15 2.15 0 1 0 -4.3 0zM1652.5 771.7a2.15 2.15 0 1 0 4.3 0a2.15 2.15 0 1 0 -4.3 0zM1647.1 771.8a2.15 2.15 0 1 0 4.3 0a2.15 2.15 0 1 0 -4.3 0zM1651.1 779.1a2.15 2.15 0 1 0 4.3 0a2.15 2.15 0 1 0 -4.3 0zM1648.8 780.2a2.15 2.15 0 1 0 4.3 0a2.15 2.15 0 1 0 -4.3 0zM1646.9 780.9a2.15 2.15 0 1 0 4.3 0a2.15 2.15 0 1 0 -4.3 0zM1650.1 775.0a2.15 2.15 0 1 0 4.3 0a2.15 2.15 0 1 0 -4.3 0zM1643.4 809.8a2.15 2.15 0 1 0 4.3 0a2.15 2.15 0 1 0 -4.3 0zM1643.3 845.7a2.15 2.15 0 1 0 4.3 0a2.15 2.15 0 1 0 -4.3 0zM1640.9 830.3a2.15 2.15 0 1 0 4.3 0a2.15 2.15 0 1 0 -4.3 0zM1647.7 826.4a2.15 2.15 0 1 0 4.3 0a2.15 2.15 0 1 0 -4.3 0zM1640.5 818.9a2.15 2.15 0 1 0 4.3 0a2.15 2.15 0 1 0 -4.3 0zM1641.8 835.8a2.15 2.15 0 1 0 4.3 0a2.15 2.15 0 1 0 -4.3 0zM1639.9 795.6a2.15 2.15 0 1 0 4.3 0a2.15 2.15 0 1 0 -4.3 0zM1653.4 830.3a2.15 2.15 0 1 0 4.3 0a2.15 2.15 0 1 0 -4.3 0zM1646.9 794.9a2.15 2.15 0 1 0 4.3 0a2.15 2.15 0 1 0 -4.3 0zM1648.5 816.9a2.15 2.15 0 1 0 4.3 0a2.15 2.15 0 1 0 -4.3 0zM1639.3 839.2a2.15 2.15 0 1 0 4.3 0a2.15 2.15 0 1 0 -4.3 0zM1651.4 849.0a2.15 2.15 0 1 0 4.3 0a2.15 2.15 0 1 0 -4.3 0zM1651.1 820.4a2.15 2.15 0 1 0 4.3 0a2.15 2.15 0 1 0 -4.3 0zM1647.2 832.7a2.15 2.15 0 1 0 4.3 0a2.15 2.15 0 1 0 -4.3 0zM1651.0 836.0a2.15 2.15 0 1 0 4.3 0a2.15 2.15 0 1 0 -4.3 0zM1647.5 805.2a2.15 2.15 0 1 0 4.3 0a2.15 2.15 0 1 0 -4.3 0zM1645.4 853.7a2.15 2.15 0 1 0 4.3 0a2.15 2.15 0 1 0 -4.3 0zM1651.3 843.7a2.15 2.15 0 1 0 4.3 0a2.15 2.15 0 1 0 -4.3 0zM1643.9 825.5a2.15 2.15 0 1 0 4.3 0a2.15 2.15 0 1 0 -4.3 0zM1652.2 811.8a2.15 2.15 0 1 0 4.3 0a2.15 2.15 0 1 0 -4.3 0zM1641.7 805.6a2.15 2.15 0 1 0 4.3 0a2.15 2.15 0 1 0 -4.3 0zM1651.7 854.3a2.15 2.15 0 1 0 4.3 0a2.15 2.15 0 1 0 -4.3 0zM1650.9 803.1a2.15 2.15 0 1 0 4.3 0a2.15 2.15 0 1 0 -4.3 0zM1653.0 827.2a2.15 2.15 0 1 0 4.3 0a2.15 2.15 0 1 0 -4.3 0zM1639.3 813.3a2.15 2.15 0 1 0 4.3 0a2.15 2.15 0 1 0 -4.3 0zM1645.0 829.1a2.15 2.15 0 1 0 4.3 0a2.15 2.15 0 1 0 -4.3 0zM1640.5 844.2a2.15 2.15 0 1 0 4.3 0a2.15 2.15 0 1 0 -4.3 0zM1646.7 816.9a2.15 2.15 0 1 0 4.3 0a2.15 2.15 0 1 0 -4.3 0zM1640.5 828.4a2.15 2.15 0 1 0 4.3 0a2.15 2.15 0 1 0 -4.3 0zM1647.0 836.4a2.15 2.15 0 1 0 4.3 0a2.15 2.15 0 1 0 -4.3 0zM1650.1 808.2a2.15 2.15 0 1 0 4.3 0a2.15 2.15 0 1 0 -4.3 0zM1644.7 812.2a2.15 2.15 0 1 0 4.3 0a2.15 2.15 0 1 0 -4.3 0zM1642.4 822.7a2.15 2.15 0 1 0 4.3 0a2.15 2.15 0 1 0 -4.3 0zM1652.0 832.5a2.15 2.15 0 1 0 4.3 0a2.15 2.15 0 1 0 -4.3 0zM1641.3 837.8a2.15 2.15 0 1 0 4.3 0a2.15 2.15 0 1 0 -4.3 0zM1648.9 842.0a2.15 2.15 0 1 0 4.3 0a2.15 2.15 0 1 0 -4.3 0zM1649.8 851.1a2.15 2.15 0 1 0 4.3 0a2.15 2.15 0 1 0 -4.3 0zM1640.5 848.9a2.15 2.15 0 1 0 4.3 0a2.15 2.15 0 1 0 -4.3 0zM1640.5 797.8a2.15 2.15 0 1 0 4.3 0a2.15 2.15 0 1 0 -4.3 0zM1640.5 840.6a2.15 2.15 0 1 0 4.3 0a2.15 2.15 0 1 0 -4.3 0zM1651.8 829.4a2.15 2.15 0 1 0 4.3 0a2.15 2.15 0 1 0 -4.3 0zM1652.9 796.3a2.15 2.15 0 1 0 4.3 0a2.15 2.15 0 1 0 -4.3 0zM1648.9 823.6a2.15 2.15 0 1 0 4.3 0a2.15 2.15 0 1 0 -4.3 0zM1651.4 823.7a2.15 2.15 0 1 0 4.3 0a2.15 2.15 0 1 0 -4.3 0zM1647.6 801.2a2.15 2.15 0 1 0 4.3 0a2.15 2.15 0 1 0 -4.3 0zM1644.6 821.9a2.15 2.15 0 1 0 4.3 0a2.15 2.15 0 1 0 -4.3 0zM1643.8 797.7a2.15 2.15 0 1 0 4.3 0a2.15 2.15 0 1 0 -4.3 0zM1639.5 810.5a2.15 2.15 0 1 0 4.3 0a2.15 2.15 0 1 0 -4.3 0zM1653.5 799.9a2.15 2.15 0 1 0 4.3 0a2.15 2.15 0 1 0 -4.3 0zM1651.8 839.2a2.15 2.15 0 1 0 4.3 0a2.15 2.15 0 1 0 -4.3 0zM1644.2 818.5a2.15 2.15 0 1 0 4.3 0a2.15 2.15 0 1 0 -4.3 0zM1649.8 828.3a2.15 2.15 0 1 0 4.3 0a2.15 2.15 0 1 0 -4.3 0zM1643.6 856.8a2.15 2.15 0 1 0 4.3 0a2.15 2.15 0 1 0 -4.3 0zM1642.5 816.0a2.15 2.15 0 1 0 4.3 0a2.15 2.15 0 1 0 -4.3 0zM1647.3 819.5a2.15 2.15 0 1 0 4.3 0a2.15 2.15 0 1 0 -4.3 0zM1641.4 803.8a2.15 2.15 0 1 0 4.3 0a2.15 2.15 0 1 0 -4.3 0zM1652.7 821.3a2.15 2.15 0 1 0 4.3 0a2.15 2.15 0 1 0 -4.3 0zM1647.4 856.6a2.15 2.15 0 1 0 4.3 0a2.15 2.15 0 1 0 -4.3 0zM1652.2 818.2a2.15 2.15 0 1 0 4.3 0a2.15 2.15 0 1 0 -4.3 0zM1649.3 815.1a2.15 2.15 0 1 0 4.3 0a2.15 2.15 0 1 0 -4.3 0zM1647.8 844.3a2.15 2.15 0 1 0 4.3 0a2.15 2.15 0 1 0 -4.3 0zM1650.8 845.1a2.15 2.15 0 1 0 4.3 0a2.15 2.15 0 1 0 -4.3 0zM1652.5 814.7a2.15 2.15 0 1 0 4.3 0a2.15 2.15 0 1 0 -4.3 0zM1643.7 838.0a2.15 2.15 0 1 0 4.3 0a2.15 2.15 0 1 0 -4.3 0zM1639.7 824.5a2.15 2.15 0 1 0 4.3 0a2.15 2.15 0 1 0 -4.3 0zM1645.7 796.3a2.15 2.15 0 1 0 4.3 0a2.15 2.15 0 1 0 -4.3 0zM1653.5 802.7a2.15 2.15 0 1 0 4.3 0a2.15 2.15 0 1 0 -4.3 0zM1650.2 806.1a2.15 2.15 0 1 0 4.3 0a2.15 2.15 0 1 0 -4.3 0zM1646.8 831.2a2.15 2.15 0 1 0 4.3 0a2.15 2.15 0 1 0 -4.3 0zM1649.4 838.6a2.15 2.15 0 1 0 4.3 0a2.15 2.15 0 1 0 -4.3 0zM1646.6 850.3a2.15 2.15 0 1 0 4.3 0a2.15 2.15 0 1 0 -4.3 0zM1645.9 833.8a2.15 2.15 0 1 0 4.3 0a2.15 2.15 0 1 0 -4.3 0zM1653.5 815.6a2.15 2.15 0 1 0 4.3 0a2.15 2.15 0 1 0 -4.3 0zM1647.1 812.9a2.15 2.15 0 1 0 4.3 0a2.15 2.15 0 1 0 -4.3 0zM1641.1 812.6a2.15 2.15 0 1 0 4.3 0a2.15 2.15 0 1 0 -4.3 0zM1648.3 821.5a2.15 2.15 0 1 0 4.3 0a2.15 2.15 0 1 0 -4.3 0zM1650.7 826.4a2.15 2.15 0 1 0 4.3 0a2.15 2.15 0 1 0 -4.3 0zM1639.8 833.4a2.15 2.15 0 1 0 4.3 0a2.15 2.15 0 1 0 -4.3 0zM1644.9 848.3a2.15 2.15 0 1 0 4.3 0a2.15 2.15 0 1 0 -4.3 0zM1650.1 833.3a2.15 2.15 0 1 0 4.3 0a2.15 2.15 0 1 0 -4.3 0zM1643.3 858.4a2.15 2.15 0 1 0 4.3 0a2.15 2.15 0 1 0 -4.3 0zM1643.0 820.9a2.15 2.15 0 1 0 4.3 0a2.15 2.15 0 1 0 -4.3 0zM1646.0 846.2a2.15 2.15 0 1 0 4.3 0a2.15 2.15 0 1 0 -4.3 0zM1644.2 839.5a2.15 2.15 0 1 0 4.3 0a2.15 2.15 0 1 0 -4.3 0zM1651.6 858.5a2.15 2.15 0 1 0 4.3 0a2.15 2.15 0 1 0 -4.3 0zM1640.5 854.3a2.15 2.15 0 1 0 4.3 0a2.15 2.15 0 1 0 -4.3 0zM1649.0 806.1a2.15 2.15 0 1 0 4.3 0a2.15 2.15 0 1 0 -4.3 0zM1642.3 840.1a2.15 2.15 0 1 0 4.3 0a2.15 2.15 0 1 0 -4.3 0zM1645.2 807.4a2.15 2.15 0 1 0 4.3 0a2.15 2.15 0 1 0 -4.3 0zM1639.1 857.4a2.15 2.15 0 1 0 4.3 0a2.15 2.15 0 1 0 -4.3 0zM1640.9 825.1a2.15 2.15 0 1 0 4.3 0a2.15 2.15 0 1 0 -4.3 0zM1644.1 827.8a2.15 2.15 0 1 0 4.3 0a2.15 2.15 0 1 0 -4.3 0zM1642.0 853.3a2.15 2.15 0 1 0 4.3 0a2.15 2.15 0 1 0 -4.3 0zM1642.8 804.1a2.15 2.15 0 1 0 4.3 0a2.15 2.15 0 1 0 -4.3 0zM1644.2 795.5a2.15 2.15 0 1 0 4.3 0a2.15 2.15 0 1 0 -4.3 0zM1649.1 855.6a2.15 2.15 0 1 0 4.3 0a2.15 2.15 0 1 0 -4.3 0zM1644.9 810.3a2.15 2.15 0 1 0 4.3 0a2.15 2.15 0 1 0 -4.3 0zM1653.6 793.9a2.15 2.15 0 1 0 4.3 0a2.15 2.15 0 1 0 -4.3 0zM1641.8 808.3a2.15 2.15 0 1 0 4.3 0a2.15 2.15 0 1 0 -4.3 0zM1648.4 829.8a2.15 2.15 0 1 0 4.3 0a2.15 2.15 0 1 0 -4.3 0zM1643.5 853.9a2.15 2.15 0 1 0 4.3 0a2.15 2.15 0 1 0 -4.3 0zM1642.3 832.8a2.15 2.15 0 1 0 4.3 0a2.15 2.15 0 1 0 -4.3 0zM1648.9 820.5a2.15 2.15 0 1 0 4.3 0a2.15 2.15 0 1 0 -4.3 0zM1642.8 847.5a2.15 2.15 0 1 0 4.3 0a2.15 2.15 0 1 0 -4.3 0zM1642.1 810.2a2.15 2.15 0 1 0 4.3 0a2.15 2.15 0 1 0 -4.3 0zM1650.9 866.2a2.15 2.15 0 1 0 4.3 0a2.15 2.15 0 1 0 -4.3 0zM1641.1 868.6a2.15 2.15 0 1 0 4.3 0a2.15 2.15 0 1 0 -4.3 0zM1650.1 862.3a2.15 2.15 0 1 0 4.3 0a2.15 2.15 0 1 0 -4.3 0zM1640.8 864.0a2.15 2.15 0 1 0 4.3 0a2.15 2.15 0 1 0 -4.3 0zM1644.7 862.7a2.15 2.15 0 1 0 4.3 0a2.15 2.15 0 1 0 -4.3 0zM1645.1 868.4a2.15 2.15 0 1 0 4.3 0a2.15 2.15 0 1 0 -4.3 0zM1643.7 864.7a2.15 2.15 0 1 0 4.3 0a2.15 2.15 0 1 0 -4.3 0zM1648.2 864.2a2.15 2.15 0 1 0 4.3 0a2.15 2.15 0 1 0 -4.3 0z" fill="#7cf54e"/>
<path d="M1921.6 795.5a2.15 2.15 0 1 0 4.3 0a2.15 2.15 0 1 0 -4.3 0zM1906.5 799.9a2.15 2.15 0 1 0 4.3 0a2.15 2.15 0 1 0 -4.3 0zM1918.5 808.0a2.15 2.15 0 1 0 4.3 0a2.15 2.15 0 1 0 -4.3 0zM1911.9 812.2a2.15 2.15 0 1 0 4.3 0a2.15 2.15 0 1 0 -4.3 0zM1910.8 815.8a2.15 2.15 0 1 0 4.3 0a2.15 2.15 0 1 0 -4.3 0zM1915.4 816.9a2.15 2.15 0 1 0 4.3 0a2.15 2.15 0 1 0 -4.3 0zM1913.8 820.5a2.15 2.15 0 1 0 4.3 0a2.15 2.15 0 1 0 -4.3 0zM1917.4 824.9a2.15 2.15 0 1 0 4.3 0a2.15 2.15 0 1 0 -4.3 0zM1911.9 831.4a2.15 2.15 0 1 0 4.3 0a2.15 2.15 0 1 0 -4.3 0zM1904.8 832.5a2.15 2.15 0 1 0 4.3 0a2.15 2.15 0 1 0 -4.3 0zM1917.8 836.1a2.15 2.15 0 1 0 4.3 0a2.15 2.15 0 1 0 -4.3 0zM1913.5 837.6a2.15 2.15 0 1 0 4.3 0a2.15 2.15 0 1 0 -4.3 0zM1915.1 840.0a2.15 2.15 0 1 0 4.3 0a2.15 2.15 0 1 0 -4.3 0zM1908.8 854.0a2.15 2.15 0 1 0 4.3 0a2.15 2.15 0 1 0 -4.3 0zM1913.8 857.1a2.15 2.15 0 1 0 4.3 0a2.15 2.15 0 1 0 -4.3 0zM1904.9 858.7a2.15 2.15 0 1 0 4.3 0a2.15 2.15 0 1 0 -4.3 0zM1919.8 860.0a2.15 2.15 0 1 0 4.3 0a2.15 2.15 0 1 0 -4.3 0zM1916.9 862.6a2.15 2.15 0 1 0 4.3 0a2.15 2.15 0 1 0 -4.3 0zM1913.8 865.7a2.15 2.15 0 1 0 4.3 0a2.15 2.15 0 1 0 -4.3 0zM1909.9 866.5a2.15 2.15 0 1 0 4.3 0a2.15 2.15 0 1 0 -4.3 0zM1906.8 868.1a2.15 2.15 0 1 0 4.3 0a2.15 2.15 0 1 0 -4.3 0zM1903.8 868.8a2.15 2.15 0 1 0 4.3 0a2.15 2.15 0 1 0 -4.3 0zM1919.0 870.4a2.15 2.15 0 1 0 4.3 0a2.15 2.15 0 1 0 -4.3 0zM1915.4 873.5a2.15 2.15 0 1 0 4.3 0a2.15 2.15 0 1 0 -4.3 0zM1915.1 880.5a2.15 2.15 0 1 0 4.3 0a2.15 2.15 0 1 0 -4.3 0zM1909.9 881.3a2.15 2.15 0 1 0 4.3 0a2.15 2.15 0 1 0 -4.3 0zM1907.6 882.9a2.15 2.15 0 1 0 4.3 0a2.15 2.15 0 1 0 -4.3 0zM1901.3 884.9a2.15 2.15 0 1 0 4.3 0a2.15 2.15 0 1 0 -4.3 0zM1914.6 886.8a2.15 2.15 0 1 0 4.3 0a2.15 2.15 0 1 0 -4.3 0zM1913.0 893.0a2.15 2.15 0 1 0 4.3 0a2.15 2.15 0 1 0 -4.3 0zM1905.2 894.6a2.15 2.15 0 1 0 4.3 0a2.15 2.15 0 1 0 -4.3 0zM1907.6 896.1a2.15 2.15 0 1 0 4.3 0a2.15 2.15 0 1 0 -4.3 0zM1915.4 896.1a2.15 2.15 0 1 0 4.3 0a2.15 2.15 0 1 0 -4.3 0zM1920.8 899.3a2.15 2.15 0 1 0 4.3 0a2.15 2.15 0 1 0 -4.3 0zM1918.5 902.4a2.15 2.15 0 1 0 4.3 0a2.15 2.15 0 1 0 -4.3 0zM1913.0 903.2a2.15 2.15 0 1 0 4.3 0a2.15 2.15 0 1 0 -4.3 0zM1906.8 906.3a2.15 2.15 0 1 0 4.3 0a2.15 2.15 0 1 0 -4.3 0zM1917.8 907.1a2.15 2.15 0 1 0 4.3 0a2.15 2.15 0 1 0 -4.3 0zM1916.2 905.7a2.15 2.15 0 1 0 4.3 0a2.15 2.15 0 1 0 -4.3 0zM1919.3 907.8a2.15 2.15 0 1 0 4.3 0a2.15 2.15 0 1 0 -4.3 0zM1906.8 911.2a2.15 2.15 0 1 0 4.3 0a2.15 2.15 0 1 0 -4.3 0zM1906.8 914.0a2.15 2.15 0 1 0 4.3 0a2.15 2.15 0 1 0 -4.3 0zM1919.0 915.9a2.15 2.15 0 1 0 4.3 0a2.15 2.15 0 1 0 -4.3 0zM1917.8 918.2a2.15 2.15 0 1 0 4.3 0a2.15 2.15 0 1 0 -4.3 0zM1914.6 920.2a2.15 2.15 0 1 0 4.3 0a2.15 2.15 0 1 0 -4.3 0zM1912.3 921.3a2.15 2.15 0 1 0 4.3 0a2.15 2.15 0 1 0 -4.3 0zM1916.9 922.1a2.15 2.15 0 1 0 4.3 0a2.15 2.15 0 1 0 -4.3 0zM1920.1 921.8a2.15 2.15 0 1 0 4.3 0a2.15 2.15 0 1 0 -4.3 0zM1910.8 930.7a2.15 2.15 0 1 0 4.3 0a2.15 2.15 0 1 0 -4.3 0zM1917.4 933.8a2.15 2.15 0 1 0 4.3 0a2.15 2.15 0 1 0 -4.3 0zM1910.2 937.7a2.15 2.15 0 1 0 4.3 0a2.15 2.15 0 1 0 -4.3 0zM1907.6 939.8a2.15 2.15 0 1 0 4.3 0a2.15 2.15 0 1 0 -4.3 0zM1909.3 948.3a2.15 2.15 0 1 0 4.3 0a2.15 2.15 0 1 0 -4.3 0zM1909.6 955.4a2.15 2.15 0 1 0 4.3 0a2.15 2.15 0 1 0 -4.3 0zM1911.8 966.9a2.15 2.15 0 1 0 4.3 0a2.15 2.15 0 1 0 -4.3 0zM1907.1 968.9a2.15 2.15 0 1 0 4.3 0a2.15 2.15 0 1 0 -4.3 0zM1913.4 991.1a2.15 2.15 0 1 0 4.3 0a2.15 2.15 0 1 0 -4.3 0zM1912.6 1003.7a2.15 2.15 0 1 0 4.3 0a2.15 2.15 0 1 0 -4.3 0zM1905.2 1043.8a2.15 2.15 0 1 0 4.3 0a2.15 2.15 0 1 0 -4.3 0z" fill="#f0565a"/>
<path d="M1946.3 750.7a2.15 2.15 0 1 0 4.3 0a2.15 2.15 0 1 0 -4.3 0zM1940.3 834.2a2.15 2.15 0 1 0 4.3 0a2.15 2.15 0 1 0 -4.3 0zM1948.1 834.2a2.15 2.15 0 1 0 4.3 0a2.15 2.15 0 1 0 -4.3 0zM1951.3 834.8a2.15 2.15 0 1 0 4.3 0a2.15 2.15 0 1 0 -4.3 0zM1948.9 837.6a2.15 2.15 0 1 0 4.3 0a2.15 2.15 0 1 0 -4.3 0zM1955.6 840.8a2.15 2.15 0 1 0 4.3 0a2.15 2.15 0 1 0 -4.3 0zM1951.3 843.4a2.15 2.15 0 1 0 4.3 0a2.15 2.15 0 1 0 -4.3 0zM1945.3 845.8a2.15 2.15 0 1 0 4.3 0a2.15 2.15 0 1 0 -4.3 0zM1946.3 853.2a2.15 2.15 0 1 0 4.3 0a2.15 2.15 0 1 0 -4.3 0zM1943.5 855.6a2.15 2.15 0 1 0 4.3 0a2.15 2.15 0 1 0 -4.3 0zM1948.2 857.9a2.15 2.15 0 1 0 4.3 0a2.15 2.15 0 1 0 -4.3 0zM1952.9 854.8a2.15 2.15 0 1 0 4.3 0a2.15 2.15 0 1 0 -4.3 0zM1941.2 859.5a2.15 2.15 0 1 0 4.3 0a2.15 2.15 0 1 0 -4.3 0zM1944.3 862.6a2.15 2.15 0 1 0 4.3 0a2.15 2.15 0 1 0 -4.3 0zM1950.5 864.2a2.15 2.15 0 1 0 4.3 0a2.15 2.15 0 1 0 -4.3 0zM1953.7 864.9a2.15 2.15 0 1 0 4.3 0a2.15 2.15 0 1 0 -4.3 0zM1941.2 864.2a2.15 2.15 0 1 0 4.3 0a2.15 2.15 0 1 0 -4.3 0zM1942.7 870.4a2.15 2.15 0 1 0 4.3 0a2.15 2.15 0 1 0 -4.3 0zM1939.6 870.4a2.15 2.15 0 1 0 4.3 0a2.15 2.15 0 1 0 -4.3 0zM1950.5 868.8a2.15 2.15 0 1 0 4.3 0a2.15 2.15 0 1 0 -4.3 0zM1954.4 871.2a2.15 2.15 0 1 0 4.3 0a2.15 2.15 0 1 0 -4.3 0zM1957.6 871.2a2.15 2.15 0 1 0 4.3 0a2.15 2.15 0 1 0 -4.3 0zM1952.1 872.7a2.15 2.15 0 1 0 4.3 0a2.15 2.15 0 1 0 -4.3 0zM1949.0 877.4a2.15 2.15 0 1 0 4.3 0a2.15 2.15 0 1 0 -4.3 0zM1952.9 876.6a2.15 2.15 0 1 0 4.3 0a2.15 2.15 0 1 0 -4.3 0zM1951.3 879.8a2.15 2.15 0 1 0 4.3 0a2.15 2.15 0 1 0 -4.3 0zM1941.2 881.3a2.15 2.15 0 1 0 4.3 0a2.15 2.15 0 1 0 -4.3 0zM1944.3 884.4a2.15 2.15 0 1 0 4.3 0a2.15 2.15 0 1 0 -4.3 0zM1946.6 884.4a2.15 2.15 0 1 0 4.3 0a2.15 2.15 0 1 0 -4.3 0zM1936.5 887.6a2.15 2.15 0 1 0 4.3 0a2.15 2.15 0 1 0 -4.3 0zM1944.3 890.7a2.15 2.15 0 1 0 4.3 0a2.15 2.15 0 1 0 -4.3 0zM1947.4 890.7a2.15 2.15 0 1 0 4.3 0a2.15 2.15 0 1 0 -4.3 0zM1939.6 893.0a2.15 2.15 0 1 0 4.3 0a2.15 2.15 0 1 0 -4.3 0zM1948.2 893.8a2.15 2.15 0 1 0 4.3 0a2.15 2.15 0 1 0 -4.3 0zM1946.6 899.3a2.15 2.15 0 1 0 4.3 0a2.15 2.15 0 1 0 -4.3 0zM1954.1 899.3a2.15 2.15 0 1 0 4.3 0a2.15 2.15 0 1 0 -4.3 0zM1943.5 904.7a2.15 2.15 0 1 0 4.3 0a2.15 2.15 0 1 0 -4.3 0zM1949.0 906.3a2.15 2.15 0 1 0 4.3 0a2.15 2.15 0 1 0 -4.3 0zM1952.1 907.8a2.15 2.15 0 1 0 4.3 0a2.15 2.15 0 1 0 -4.3 0zM1937.2 887.5a2.15 2.15 0 1 0 4.3 0a2.15 2.15 0 1 0 -4.3 0zM1941.9 883.1a2.15 2.15 0 1 0 4.3 0a2.15 2.15 0 1 0 -4.3 0zM1945.8 883.9a2.15 2.15 0 1 0 4.3 0a2.15 2.15 0 1 0 -4.3 0zM1941.1 890.1a2.15 2.15 0 1 0 4.3 0a2.15 2.15 0 1 0 -4.3 0zM1939.6 893.3a2.15 2.15 0 1 0 4.3 0a2.15 2.15 0 1 0 -4.3 0zM1945.8 890.1a2.15 2.15 0 1 0 4.3 0a2.15 2.15 0 1 0 -4.3 0zM1948.1 894.8a2.15 2.15 0 1 0 4.3 0a2.15 2.15 0 1 0 -4.3 0zM1946.6 899.0a2.15 2.15 0 1 0 4.3 0a2.15 2.15 0 1 0 -4.3 0zM1954.1 899.5a2.15 2.15 0 1 0 4.3 0a2.15 2.15 0 1 0 -4.3 0zM1943.5 904.6a2.15 2.15 0 1 0 4.3 0a2.15 2.15 0 1 0 -4.3 0zM1950.5 905.0a2.15 2.15 0 1 0 4.3 0a2.15 2.15 0 1 0 -4.3 0zM1948.1 907.3a2.15 2.15 0 1 0 4.3 0a2.15 2.15 0 1 0 -4.3 0zM1952.0 908.9a2.15 2.15 0 1 0 4.3 0a2.15 2.15 0 1 0 -4.3 0zM1945.8 910.4a2.15 2.15 0 1 0 4.3 0a2.15 2.15 0 1 0 -4.3 0zM1944.2 913.1a2.15 2.15 0 1 0 4.3 0a2.15 2.15 0 1 0 -4.3 0zM1948.9 911.2a2.15 2.15 0 1 0 4.3 0a2.15 2.15 0 1 0 -4.3 0zM1953.6 912.0a2.15 2.15 0 1 0 4.3 0a2.15 2.15 0 1 0 -4.3 0zM1956.4 913.1a2.15 2.15 0 1 0 4.3 0a2.15 2.15 0 1 0 -4.3 0zM1943.8 921.8a2.15 2.15 0 1 0 4.3 0a2.15 2.15 0 1 0 -4.3 0zM1955.9 921.3a2.15 2.15 0 1 0 4.3 0a2.15 2.15 0 1 0 -4.3 0zM1955.2 931.5a2.15 2.15 0 1 0 4.3 0a2.15 2.15 0 1 0 -4.3 0z" fill="#7cf54e"/>
<line x1="1592.40" y1="872.00" x2="1592.40" y2="878.20" stroke="#000" stroke-width="3.6"/>
<line x1="1668.20" y1="827.30" x2="1668.20" y2="832.00" stroke="#000" stroke-width="3.6"/>
<line x1="1895.00" y1="883.70" x2="1895.00" y2="894.60" stroke="#000" stroke-width="3.6"/>
<line x1="1970.50" y1="875.10" x2="1970.50" y2="882.10" stroke="#000" stroke-width="3.6"/>
<text x="1507.05" y="703.10" font-size="26.0" text-anchor="end" font-weight="normal" font-family="'Liberation Sans', Arimo, Helvetica, Arial, sans-serif"  class="s">1</text>
<text x="1507.05" y="786.70" font-size="26.0" text-anchor="end" font-weight="normal" font-family="'Liberation Sans', Arimo, Helvetica, Arial, sans-serif"  class="s">0.5</text>
<text x="1507.05" y="870.30" font-size="26.0" text-anchor="end" font-weight="normal" font-family="'Liberation Sans', Arimo, Helvetica, Arial, sans-serif"  class="s">0</text>
<text x="1507.05" y="953.90" font-size="26.0" text-anchor="end" font-weight="normal" font-family="'Liberation Sans', Arimo, Helvetica, Arial, sans-serif"  class="s">-0.5</text>
<text x="1507.05" y="1037.50" font-size="26.0" text-anchor="end" font-weight="normal" font-family="'Liberation Sans', Arimo, Helvetica, Arial, sans-serif"  class="s">-1</text>
<text transform="translate(1448.95,858.00) rotate(-90)" font-size="34.0" text-anchor="middle" font-family="'Liberation Sans', Arimo, Helvetica, Arial, sans-serif" class="s">Effect size</text>
<text transform="translate(1572.60,1105.70) scale(1.05,1)" font-size="42" font-family="'Liberation Serif', 'Times New Roman', Times, serif">λ</text>
<text x="1596.40" y="1112.20" font-size="29.5" font-style="italic" font-family="'Liberation Serif', 'Times New Roman', Times, serif">v</text>
<text transform="translate(1625.80,1111.10) scale(1.1,1)" font-size="49" font-family="'Liberation Serif', 'Times New Roman', Times, serif">&gt;</text>
<text transform="translate(1668.40,1105.70) scale(0.94,1)" font-size="43" font-family="'Liberation Serif', 'Times New Roman', Times, serif">0</text>
<text transform="translate(1875.30,1105.70) scale(1.05,1)" font-size="42" font-family="'Liberation Serif', 'Times New Roman', Times, serif">λ</text>
<text x="1899.10" y="1112.20" font-size="29.5" font-style="italic" font-family="'Liberation Serif', 'Times New Roman', Times, serif">v</text>
<text transform="translate(1927.70,1111.10) scale(1.1,1)" font-size="49" font-family="'Liberation Serif', 'Times New Roman', Times, serif">&lt;</text>
<text transform="translate(1970.70,1105.70) scale(0.94,1)" font-size="43" font-family="'Liberation Serif', 'Times New Roman', Times, serif">0</text>
</svg>
</body></html>
